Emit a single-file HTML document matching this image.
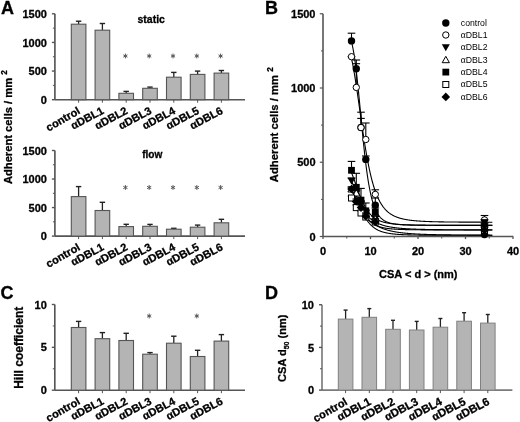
<!DOCTYPE html>
<html><head><meta charset="utf-8"><style>html,body{margin:0;padding:0;background:#fff;}svg{display:block;filter:grayscale(1) blur(0.35px);}text[font-weight="bold"]{stroke:#000;stroke-width:0.3px;}</style></head>
<body><svg width="520" height="422" viewBox="0 0 520 422"><text x="1.0" y="13.7" font-family="Liberation Sans, sans-serif" font-size="18" font-weight="bold" text-anchor="start" fill="#000" >A</text>
<text x="265.0" y="13.7" font-family="Liberation Sans, sans-serif" font-size="18" font-weight="bold" text-anchor="start" fill="#000" >B</text>
<text x="0.4" y="298.5" font-family="Liberation Sans, sans-serif" font-size="18" font-weight="bold" text-anchor="start" fill="#000" >C</text>
<text x="265.0" y="298.5" font-family="Liberation Sans, sans-serif" font-size="18" font-weight="bold" text-anchor="start" fill="#000" >D</text>
<line x1="54.9" y1="13.8" x2="54.9" y2="99.7" stroke="#555555" stroke-width="1.65" />
<line x1="54.9" y1="99.7" x2="245" y2="99.7" stroke="#555555" stroke-width="1.65" />
<line x1="51.9" y1="99.7" x2="54.9" y2="99.7" stroke="#555555" stroke-width="1.4" />
<text x="46.9" y="103.8" font-family="Liberation Sans, sans-serif" font-size="11" font-weight="bold" text-anchor="end" fill="#000" >0</text>
<line x1="51.9" y1="71.06666666666666" x2="54.9" y2="71.06666666666666" stroke="#555555" stroke-width="1.4" />
<text x="46.9" y="75.16666666666666" font-family="Liberation Sans, sans-serif" font-size="11" font-weight="bold" text-anchor="end" fill="#000" >500</text>
<line x1="51.9" y1="42.43333333333334" x2="54.9" y2="42.43333333333334" stroke="#555555" stroke-width="1.4" />
<text x="46.9" y="46.53333333333334" font-family="Liberation Sans, sans-serif" font-size="11" font-weight="bold" text-anchor="end" fill="#000" >1000</text>
<line x1="51.9" y1="13.799999999999997" x2="54.9" y2="13.799999999999997" stroke="#555555" stroke-width="1.4" />
<text x="46.9" y="17.9" font-family="Liberation Sans, sans-serif" font-size="11" font-weight="bold" text-anchor="end" fill="#000" >1500</text>
<line x1="52.9" y1="85.38333333333334" x2="54.9" y2="85.38333333333334" stroke="#555555" stroke-width="1.0" />
<line x1="52.9" y1="56.75" x2="54.9" y2="56.75" stroke="#555555" stroke-width="1.0" />
<line x1="52.9" y1="28.116666666666674" x2="54.9" y2="28.116666666666674" stroke="#555555" stroke-width="1.0" />
<line x1="78.6" y1="24.2" x2="78.6" y2="21.2" stroke="#222" stroke-width="1.3" />
<line x1="75.89999999999999" y1="21.2" x2="81.3" y2="21.2" stroke="#222" stroke-width="1.4" />
<rect x="71.3" y="24.2" width="14.6" height="75.5" fill="#b4b4b4" stroke="#555555" stroke-width="1.1"/>
<line x1="78.6" y1="99.7" x2="78.6" y2="102.7" stroke="#555555" stroke-width="1.0" />
<text transform="translate(80.89999999999999,113.0) rotate(-30)" font-family="Liberation Sans, sans-serif" font-size="11" font-weight="bold" text-anchor="end" fill="#000">control</text>
<line x1="102.39999999999999" y1="30.2" x2="102.39999999999999" y2="23.5" stroke="#222" stroke-width="1.3" />
<line x1="99.69999999999999" y1="23.5" x2="105.1" y2="23.5" stroke="#222" stroke-width="1.4" />
<rect x="95.1" y="30.2" width="14.6" height="69.5" fill="#b4b4b4" stroke="#555555" stroke-width="1.1"/>
<line x1="102.39999999999999" y1="99.7" x2="102.39999999999999" y2="102.7" stroke="#555555" stroke-width="1.0" />
<text transform="translate(104.69999999999999,113.0) rotate(-28)" font-family="Liberation Sans, sans-serif" font-size="11" font-weight="bold" text-anchor="end" fill="#000"><tspan font-family="Liberation Sans, sans-serif" font-weight="bold" font-size="11">α</tspan>DBL1</text>
<line x1="126.19999999999999" y1="93.3" x2="126.19999999999999" y2="91.4" stroke="#222" stroke-width="1.3" />
<line x1="123.49999999999999" y1="91.4" x2="128.89999999999998" y2="91.4" stroke="#222" stroke-width="1.4" />
<rect x="118.89999999999999" y="93.3" width="14.6" height="6.400000000000006" fill="#b4b4b4" stroke="#555555" stroke-width="1.1"/>
<line x1="126.19999999999999" y1="99.7" x2="126.19999999999999" y2="102.7" stroke="#555555" stroke-width="1.0" />
<line x1="125.4" y1="53.6" x2="125.4" y2="58.4" stroke="#555" stroke-width="1.0" />
<line x1="123.32" y1="54.8" x2="127.48" y2="57.2" stroke="#555" stroke-width="1.0" />
<line x1="123.32" y1="57.2" x2="127.48" y2="54.8" stroke="#555" stroke-width="1.0" />
<text transform="translate(128.5,113.0) rotate(-28)" font-family="Liberation Sans, sans-serif" font-size="11" font-weight="bold" text-anchor="end" fill="#000"><tspan font-family="Liberation Sans, sans-serif" font-weight="bold" font-size="11">α</tspan>DBL2</text>
<line x1="150.0" y1="88.3" x2="150.0" y2="87.1" stroke="#222" stroke-width="1.3" />
<line x1="147.3" y1="87.1" x2="152.7" y2="87.1" stroke="#222" stroke-width="1.4" />
<rect x="142.7" y="88.3" width="14.6" height="11.400000000000006" fill="#b4b4b4" stroke="#555555" stroke-width="1.1"/>
<line x1="150.0" y1="99.7" x2="150.0" y2="102.7" stroke="#555555" stroke-width="1.0" />
<line x1="149.2" y1="53.6" x2="149.2" y2="58.4" stroke="#555" stroke-width="1.0" />
<line x1="147.12" y1="54.8" x2="151.28" y2="57.2" stroke="#555" stroke-width="1.0" />
<line x1="147.12" y1="57.2" x2="151.28" y2="54.8" stroke="#555" stroke-width="1.0" />
<text transform="translate(152.3,113.0) rotate(-28)" font-family="Liberation Sans, sans-serif" font-size="11" font-weight="bold" text-anchor="end" fill="#000"><tspan font-family="Liberation Sans, sans-serif" font-weight="bold" font-size="11">α</tspan>DBL3</text>
<line x1="173.8" y1="77.2" x2="173.8" y2="72.4" stroke="#222" stroke-width="1.3" />
<line x1="171.10000000000002" y1="72.4" x2="176.5" y2="72.4" stroke="#222" stroke-width="1.4" />
<rect x="166.5" y="77.2" width="14.6" height="22.5" fill="#b4b4b4" stroke="#555555" stroke-width="1.1"/>
<line x1="173.8" y1="99.7" x2="173.8" y2="102.7" stroke="#555555" stroke-width="1.0" />
<line x1="173.0" y1="53.6" x2="173.0" y2="58.4" stroke="#555" stroke-width="1.0" />
<line x1="170.92" y1="54.8" x2="175.08" y2="57.2" stroke="#555" stroke-width="1.0" />
<line x1="170.92" y1="57.2" x2="175.08" y2="54.8" stroke="#555" stroke-width="1.0" />
<text transform="translate(176.10000000000002,113.0) rotate(-28)" font-family="Liberation Sans, sans-serif" font-size="11" font-weight="bold" text-anchor="end" fill="#000"><tspan font-family="Liberation Sans, sans-serif" font-weight="bold" font-size="11">α</tspan>DBL4</text>
<line x1="197.6" y1="74.4" x2="197.6" y2="71.1" stroke="#222" stroke-width="1.3" />
<line x1="194.9" y1="71.1" x2="200.29999999999998" y2="71.1" stroke="#222" stroke-width="1.4" />
<rect x="190.29999999999998" y="74.4" width="14.6" height="25.299999999999997" fill="#b4b4b4" stroke="#555555" stroke-width="1.1"/>
<line x1="197.6" y1="99.7" x2="197.6" y2="102.7" stroke="#555555" stroke-width="1.0" />
<line x1="196.8" y1="53.6" x2="196.8" y2="58.4" stroke="#555" stroke-width="1.0" />
<line x1="194.72" y1="54.8" x2="198.88" y2="57.2" stroke="#555" stroke-width="1.0" />
<line x1="194.72" y1="57.2" x2="198.88" y2="54.8" stroke="#555" stroke-width="1.0" />
<text transform="translate(199.9,113.0) rotate(-28)" font-family="Liberation Sans, sans-serif" font-size="11" font-weight="bold" text-anchor="end" fill="#000"><tspan font-family="Liberation Sans, sans-serif" font-weight="bold" font-size="11">α</tspan>DBL5</text>
<line x1="221.4" y1="73.1" x2="221.4" y2="70.5" stroke="#222" stroke-width="1.3" />
<line x1="218.70000000000002" y1="70.5" x2="224.1" y2="70.5" stroke="#222" stroke-width="1.4" />
<rect x="214.1" y="73.1" width="14.6" height="26.60000000000001" fill="#b4b4b4" stroke="#555555" stroke-width="1.1"/>
<line x1="221.4" y1="99.7" x2="221.4" y2="102.7" stroke="#555555" stroke-width="1.0" />
<line x1="220.6" y1="53.6" x2="220.6" y2="58.4" stroke="#555" stroke-width="1.0" />
<line x1="218.52" y1="54.8" x2="222.68" y2="57.2" stroke="#555" stroke-width="1.0" />
<line x1="218.52" y1="57.2" x2="222.68" y2="54.8" stroke="#555" stroke-width="1.0" />
<text transform="translate(223.70000000000002,113.0) rotate(-28)" font-family="Liberation Sans, sans-serif" font-size="11" font-weight="bold" text-anchor="end" fill="#000"><tspan font-family="Liberation Sans, sans-serif" font-weight="bold" font-size="11">α</tspan>DBL6</text>
<text x="151.2" y="23.2" font-family="Liberation Sans, sans-serif" font-size="10.5" font-weight="bold" text-anchor="middle" fill="#000" >static</text>
<line x1="54.9" y1="150.5" x2="54.9" y2="236.1" stroke="#555555" stroke-width="1.65" />
<line x1="54.9" y1="236.1" x2="245" y2="236.1" stroke="#555555" stroke-width="1.65" />
<line x1="51.9" y1="236.1" x2="54.9" y2="236.1" stroke="#555555" stroke-width="1.4" />
<text x="46.9" y="240.2" font-family="Liberation Sans, sans-serif" font-size="11" font-weight="bold" text-anchor="end" fill="#000" >0</text>
<line x1="51.9" y1="207.56666666666666" x2="54.9" y2="207.56666666666666" stroke="#555555" stroke-width="1.4" />
<text x="46.9" y="211.66666666666666" font-family="Liberation Sans, sans-serif" font-size="11" font-weight="bold" text-anchor="end" fill="#000" >500</text>
<line x1="51.9" y1="179.03333333333333" x2="54.9" y2="179.03333333333333" stroke="#555555" stroke-width="1.4" />
<text x="46.9" y="183.13333333333333" font-family="Liberation Sans, sans-serif" font-size="11" font-weight="bold" text-anchor="end" fill="#000" >1000</text>
<line x1="51.9" y1="150.5" x2="54.9" y2="150.5" stroke="#555555" stroke-width="1.4" />
<text x="46.9" y="154.6" font-family="Liberation Sans, sans-serif" font-size="11" font-weight="bold" text-anchor="end" fill="#000" >1500</text>
<line x1="52.9" y1="221.83333333333331" x2="54.9" y2="221.83333333333331" stroke="#555555" stroke-width="1.0" />
<line x1="52.9" y1="193.3" x2="54.9" y2="193.3" stroke="#555555" stroke-width="1.0" />
<line x1="52.9" y1="164.76666666666665" x2="54.9" y2="164.76666666666665" stroke="#555555" stroke-width="1.0" />
<line x1="78.6" y1="196.6" x2="78.6" y2="186.6" stroke="#222" stroke-width="1.3" />
<line x1="75.89999999999999" y1="186.6" x2="81.3" y2="186.6" stroke="#222" stroke-width="1.4" />
<rect x="71.3" y="196.6" width="14.6" height="39.5" fill="#b4b4b4" stroke="#555555" stroke-width="1.1"/>
<line x1="78.6" y1="236.1" x2="78.6" y2="239.1" stroke="#555555" stroke-width="1.0" />
<text transform="translate(80.89999999999999,249.4) rotate(-30)" font-family="Liberation Sans, sans-serif" font-size="11" font-weight="bold" text-anchor="end" fill="#000">control</text>
<line x1="102.39999999999999" y1="210.5" x2="102.39999999999999" y2="202.3" stroke="#222" stroke-width="1.3" />
<line x1="99.69999999999999" y1="202.3" x2="105.1" y2="202.3" stroke="#222" stroke-width="1.4" />
<rect x="95.1" y="210.5" width="14.6" height="25.599999999999994" fill="#b4b4b4" stroke="#555555" stroke-width="1.1"/>
<line x1="102.39999999999999" y1="236.1" x2="102.39999999999999" y2="239.1" stroke="#555555" stroke-width="1.0" />
<text transform="translate(104.69999999999999,249.4) rotate(-28)" font-family="Liberation Sans, sans-serif" font-size="11" font-weight="bold" text-anchor="end" fill="#000"><tspan font-family="Liberation Sans, sans-serif" font-weight="bold" font-size="11">α</tspan>DBL1</text>
<line x1="126.19999999999999" y1="226.6" x2="126.19999999999999" y2="224.3" stroke="#222" stroke-width="1.3" />
<line x1="123.49999999999999" y1="224.3" x2="128.89999999999998" y2="224.3" stroke="#222" stroke-width="1.4" />
<rect x="118.89999999999999" y="226.6" width="14.6" height="9.5" fill="#b4b4b4" stroke="#555555" stroke-width="1.1"/>
<line x1="126.19999999999999" y1="236.1" x2="126.19999999999999" y2="239.1" stroke="#555555" stroke-width="1.0" />
<line x1="125.4" y1="185.1" x2="125.4" y2="189.9" stroke="#555" stroke-width="1.0" />
<line x1="123.32" y1="186.3" x2="127.48" y2="188.7" stroke="#555" stroke-width="1.0" />
<line x1="123.32" y1="188.7" x2="127.48" y2="186.3" stroke="#555" stroke-width="1.0" />
<text transform="translate(128.5,249.4) rotate(-28)" font-family="Liberation Sans, sans-serif" font-size="11" font-weight="bold" text-anchor="end" fill="#000"><tspan font-family="Liberation Sans, sans-serif" font-weight="bold" font-size="11">α</tspan>DBL2</text>
<line x1="150.0" y1="226.3" x2="150.0" y2="224.4" stroke="#222" stroke-width="1.3" />
<line x1="147.3" y1="224.4" x2="152.7" y2="224.4" stroke="#222" stroke-width="1.4" />
<rect x="142.7" y="226.3" width="14.6" height="9.799999999999983" fill="#b4b4b4" stroke="#555555" stroke-width="1.1"/>
<line x1="150.0" y1="236.1" x2="150.0" y2="239.1" stroke="#555555" stroke-width="1.0" />
<line x1="149.2" y1="185.1" x2="149.2" y2="189.9" stroke="#555" stroke-width="1.0" />
<line x1="147.12" y1="186.3" x2="151.28" y2="188.7" stroke="#555" stroke-width="1.0" />
<line x1="147.12" y1="188.7" x2="151.28" y2="186.3" stroke="#555" stroke-width="1.0" />
<text transform="translate(152.3,249.4) rotate(-28)" font-family="Liberation Sans, sans-serif" font-size="11" font-weight="bold" text-anchor="end" fill="#000"><tspan font-family="Liberation Sans, sans-serif" font-weight="bold" font-size="11">α</tspan>DBL3</text>
<line x1="173.8" y1="229.2" x2="173.8" y2="228.3" stroke="#222" stroke-width="1.3" />
<line x1="171.10000000000002" y1="228.3" x2="176.5" y2="228.3" stroke="#222" stroke-width="1.4" />
<rect x="166.5" y="229.2" width="14.6" height="6.900000000000006" fill="#b4b4b4" stroke="#555555" stroke-width="1.1"/>
<line x1="173.8" y1="236.1" x2="173.8" y2="239.1" stroke="#555555" stroke-width="1.0" />
<line x1="173.0" y1="185.1" x2="173.0" y2="189.9" stroke="#555" stroke-width="1.0" />
<line x1="170.92" y1="186.3" x2="175.08" y2="188.7" stroke="#555" stroke-width="1.0" />
<line x1="170.92" y1="188.7" x2="175.08" y2="186.3" stroke="#555" stroke-width="1.0" />
<text transform="translate(176.10000000000002,249.4) rotate(-28)" font-family="Liberation Sans, sans-serif" font-size="11" font-weight="bold" text-anchor="end" fill="#000"><tspan font-family="Liberation Sans, sans-serif" font-weight="bold" font-size="11">α</tspan>DBL4</text>
<line x1="197.6" y1="227.2" x2="197.6" y2="225.1" stroke="#222" stroke-width="1.3" />
<line x1="194.9" y1="225.1" x2="200.29999999999998" y2="225.1" stroke="#222" stroke-width="1.4" />
<rect x="190.29999999999998" y="227.2" width="14.6" height="8.900000000000006" fill="#b4b4b4" stroke="#555555" stroke-width="1.1"/>
<line x1="197.6" y1="236.1" x2="197.6" y2="239.1" stroke="#555555" stroke-width="1.0" />
<line x1="196.8" y1="185.1" x2="196.8" y2="189.9" stroke="#555" stroke-width="1.0" />
<line x1="194.72" y1="186.3" x2="198.88" y2="188.7" stroke="#555" stroke-width="1.0" />
<line x1="194.72" y1="188.7" x2="198.88" y2="186.3" stroke="#555" stroke-width="1.0" />
<text transform="translate(199.9,249.4) rotate(-28)" font-family="Liberation Sans, sans-serif" font-size="11" font-weight="bold" text-anchor="end" fill="#000"><tspan font-family="Liberation Sans, sans-serif" font-weight="bold" font-size="11">α</tspan>DBL5</text>
<line x1="221.4" y1="222.8" x2="221.4" y2="219.3" stroke="#222" stroke-width="1.3" />
<line x1="218.70000000000002" y1="219.3" x2="224.1" y2="219.3" stroke="#222" stroke-width="1.4" />
<rect x="214.1" y="222.8" width="14.6" height="13.299999999999983" fill="#b4b4b4" stroke="#555555" stroke-width="1.1"/>
<line x1="221.4" y1="236.1" x2="221.4" y2="239.1" stroke="#555555" stroke-width="1.0" />
<line x1="220.6" y1="185.1" x2="220.6" y2="189.9" stroke="#555" stroke-width="1.0" />
<line x1="218.52" y1="186.3" x2="222.68" y2="188.7" stroke="#555" stroke-width="1.0" />
<line x1="218.52" y1="188.7" x2="222.68" y2="186.3" stroke="#555" stroke-width="1.0" />
<text transform="translate(223.70000000000002,249.4) rotate(-28)" font-family="Liberation Sans, sans-serif" font-size="11" font-weight="bold" text-anchor="end" fill="#000"><tspan font-family="Liberation Sans, sans-serif" font-weight="bold" font-size="11">α</tspan>DBL6</text>
<text x="152.3" y="157.7" font-family="Liberation Sans, sans-serif" font-size="10.1" font-weight="bold" text-anchor="middle" fill="#000" >flow</text>
<text transform="translate(11.8,184.1) rotate(-90)" font-family="Liberation Sans, sans-serif" font-size="11.2" font-weight="bold" fill="#000">Adherent cells / mm <tspan font-size="8.2" dy="-4.8">2</tspan></text>
<line x1="54.8" y1="304.5" x2="54.8" y2="390.2" stroke="#555555" stroke-width="1.65" />
<line x1="54.8" y1="390.2" x2="245" y2="390.2" stroke="#555555" stroke-width="1.65" />
<line x1="51.8" y1="390.2" x2="54.8" y2="390.2" stroke="#555555" stroke-width="1.4" />
<text x="46.8" y="394.3" font-family="Liberation Sans, sans-serif" font-size="11" font-weight="bold" text-anchor="end" fill="#000" >0</text>
<line x1="51.8" y1="347.35" x2="54.8" y2="347.35" stroke="#555555" stroke-width="1.4" />
<text x="46.8" y="351.45000000000005" font-family="Liberation Sans, sans-serif" font-size="11" font-weight="bold" text-anchor="end" fill="#000" >5</text>
<line x1="51.8" y1="304.5" x2="54.8" y2="304.5" stroke="#555555" stroke-width="1.4" />
<text x="46.8" y="308.6" font-family="Liberation Sans, sans-serif" font-size="11" font-weight="bold" text-anchor="end" fill="#000" >10</text>
<line x1="52.8" y1="368.775" x2="54.8" y2="368.775" stroke="#555555" stroke-width="1.0" />
<line x1="52.8" y1="325.925" x2="54.8" y2="325.925" stroke="#555555" stroke-width="1.0" />
<line x1="78.6" y1="327.5" x2="78.6" y2="321.4" stroke="#222" stroke-width="1.3" />
<line x1="75.89999999999999" y1="321.4" x2="81.3" y2="321.4" stroke="#222" stroke-width="1.4" />
<rect x="71.3" y="327.5" width="14.6" height="62.69999999999999" fill="#b4b4b4" stroke="#555555" stroke-width="1.1"/>
<line x1="78.6" y1="390.2" x2="78.6" y2="393.2" stroke="#555555" stroke-width="1.0" />
<text transform="translate(80.89999999999999,403.5) rotate(-30)" font-family="Liberation Sans, sans-serif" font-size="11" font-weight="bold" text-anchor="end" fill="#000">control</text>
<line x1="102.39999999999999" y1="338.7" x2="102.39999999999999" y2="332.6" stroke="#222" stroke-width="1.3" />
<line x1="99.69999999999999" y1="332.6" x2="105.1" y2="332.6" stroke="#222" stroke-width="1.4" />
<rect x="95.1" y="338.7" width="14.6" height="51.5" fill="#b4b4b4" stroke="#555555" stroke-width="1.1"/>
<line x1="102.39999999999999" y1="390.2" x2="102.39999999999999" y2="393.2" stroke="#555555" stroke-width="1.0" />
<text transform="translate(104.69999999999999,403.5) rotate(-28)" font-family="Liberation Sans, sans-serif" font-size="11" font-weight="bold" text-anchor="end" fill="#000"><tspan font-family="Liberation Sans, sans-serif" font-weight="bold" font-size="11">α</tspan>DBL1</text>
<line x1="126.19999999999999" y1="340.5" x2="126.19999999999999" y2="333.3" stroke="#222" stroke-width="1.3" />
<line x1="123.49999999999999" y1="333.3" x2="128.89999999999998" y2="333.3" stroke="#222" stroke-width="1.4" />
<rect x="118.89999999999999" y="340.5" width="14.6" height="49.69999999999999" fill="#b4b4b4" stroke="#555555" stroke-width="1.1"/>
<line x1="126.19999999999999" y1="390.2" x2="126.19999999999999" y2="393.2" stroke="#555555" stroke-width="1.0" />
<text transform="translate(128.5,403.5) rotate(-28)" font-family="Liberation Sans, sans-serif" font-size="11" font-weight="bold" text-anchor="end" fill="#000"><tspan font-family="Liberation Sans, sans-serif" font-weight="bold" font-size="11">α</tspan>DBL2</text>
<line x1="150.0" y1="354.2" x2="150.0" y2="352.6" stroke="#222" stroke-width="1.3" />
<line x1="147.3" y1="352.6" x2="152.7" y2="352.6" stroke="#222" stroke-width="1.4" />
<rect x="142.7" y="354.2" width="14.6" height="36.0" fill="#b4b4b4" stroke="#555555" stroke-width="1.1"/>
<line x1="150.0" y1="390.2" x2="150.0" y2="393.2" stroke="#555555" stroke-width="1.0" />
<line x1="149.2" y1="313.6" x2="149.2" y2="318.4" stroke="#555" stroke-width="1.0" />
<line x1="147.12" y1="314.8" x2="151.28" y2="317.2" stroke="#555" stroke-width="1.0" />
<line x1="147.12" y1="317.2" x2="151.28" y2="314.8" stroke="#555" stroke-width="1.0" />
<text transform="translate(152.3,403.5) rotate(-28)" font-family="Liberation Sans, sans-serif" font-size="11" font-weight="bold" text-anchor="end" fill="#000"><tspan font-family="Liberation Sans, sans-serif" font-weight="bold" font-size="11">α</tspan>DBL3</text>
<line x1="173.8" y1="343.2" x2="173.8" y2="336.2" stroke="#222" stroke-width="1.3" />
<line x1="171.10000000000002" y1="336.2" x2="176.5" y2="336.2" stroke="#222" stroke-width="1.4" />
<rect x="166.5" y="343.2" width="14.6" height="47.0" fill="#b4b4b4" stroke="#555555" stroke-width="1.1"/>
<line x1="173.8" y1="390.2" x2="173.8" y2="393.2" stroke="#555555" stroke-width="1.0" />
<text transform="translate(176.10000000000002,403.5) rotate(-28)" font-family="Liberation Sans, sans-serif" font-size="11" font-weight="bold" text-anchor="end" fill="#000"><tspan font-family="Liberation Sans, sans-serif" font-weight="bold" font-size="11">α</tspan>DBL4</text>
<line x1="197.6" y1="356.5" x2="197.6" y2="350.3" stroke="#222" stroke-width="1.3" />
<line x1="194.9" y1="350.3" x2="200.29999999999998" y2="350.3" stroke="#222" stroke-width="1.4" />
<rect x="190.29999999999998" y="356.5" width="14.6" height="33.69999999999999" fill="#b4b4b4" stroke="#555555" stroke-width="1.1"/>
<line x1="197.6" y1="390.2" x2="197.6" y2="393.2" stroke="#555555" stroke-width="1.0" />
<line x1="196.8" y1="313.6" x2="196.8" y2="318.4" stroke="#555" stroke-width="1.0" />
<line x1="194.72" y1="314.8" x2="198.88" y2="317.2" stroke="#555" stroke-width="1.0" />
<line x1="194.72" y1="317.2" x2="198.88" y2="314.8" stroke="#555" stroke-width="1.0" />
<text transform="translate(199.9,403.5) rotate(-28)" font-family="Liberation Sans, sans-serif" font-size="11" font-weight="bold" text-anchor="end" fill="#000"><tspan font-family="Liberation Sans, sans-serif" font-weight="bold" font-size="11">α</tspan>DBL5</text>
<line x1="221.4" y1="341.1" x2="221.4" y2="334.6" stroke="#222" stroke-width="1.3" />
<line x1="218.70000000000002" y1="334.6" x2="224.1" y2="334.6" stroke="#222" stroke-width="1.4" />
<rect x="214.1" y="341.1" width="14.6" height="49.099999999999966" fill="#b4b4b4" stroke="#555555" stroke-width="1.1"/>
<line x1="221.4" y1="390.2" x2="221.4" y2="393.2" stroke="#555555" stroke-width="1.0" />
<text transform="translate(223.70000000000002,403.5) rotate(-28)" font-family="Liberation Sans, sans-serif" font-size="11" font-weight="bold" text-anchor="end" fill="#000"><tspan font-family="Liberation Sans, sans-serif" font-weight="bold" font-size="11">α</tspan>DBL6</text>
<text transform="translate(23.1,388.8) rotate(-90)" font-family="Liberation Sans, sans-serif" font-size="12" font-weight="bold" fill="#000">Hill coefficient</text>
<line x1="322" y1="304.75" x2="322" y2="390.1" stroke="#7a7a7a" stroke-width="1.65" />
<line x1="322" y1="390.1" x2="512.4" y2="390.1" stroke="#7a7a7a" stroke-width="1.65" />
<line x1="319.0" y1="390.1" x2="322" y2="390.1" stroke="#555555" stroke-width="1.4" />
<text x="314.0" y="394.20000000000005" font-family="Liberation Sans, sans-serif" font-size="11" font-weight="bold" text-anchor="end" fill="#000" >0</text>
<line x1="319.0" y1="347.425" x2="322" y2="347.425" stroke="#555555" stroke-width="1.4" />
<text x="314.0" y="351.52500000000003" font-family="Liberation Sans, sans-serif" font-size="11" font-weight="bold" text-anchor="end" fill="#000" >5</text>
<line x1="319.0" y1="304.75" x2="322" y2="304.75" stroke="#555555" stroke-width="1.4" />
<text x="314.0" y="308.85" font-family="Liberation Sans, sans-serif" font-size="11" font-weight="bold" text-anchor="end" fill="#000" >10</text>
<line x1="320" y1="368.76250000000005" x2="322" y2="368.76250000000005" stroke="#555555" stroke-width="1.0" />
<line x1="320" y1="326.0875" x2="322" y2="326.0875" stroke="#555555" stroke-width="1.0" />
<line x1="345.6" y1="319.1" x2="345.6" y2="310.1" stroke="#222" stroke-width="1.3" />
<line x1="343.6" y1="310.1" x2="347.6" y2="310.1" stroke="#222" stroke-width="1.4" />
<rect x="338.3" y="319.1" width="14.6" height="71.0" fill="#b4b4b4" stroke="#808080" stroke-width="1.0"/>
<line x1="345.6" y1="390.1" x2="345.6" y2="393.1" stroke="#555555" stroke-width="1.0" />
<text transform="translate(348.1,403.90000000000003) rotate(-30)" font-family="Liberation Sans, sans-serif" font-size="11" font-weight="bold" text-anchor="end" fill="#000">control</text>
<line x1="369.3" y1="317.3" x2="369.3" y2="308.6" stroke="#222" stroke-width="1.3" />
<line x1="367.3" y1="308.6" x2="371.3" y2="308.6" stroke="#222" stroke-width="1.4" />
<rect x="362.0" y="317.3" width="14.6" height="72.80000000000001" fill="#b4b4b4" stroke="#808080" stroke-width="1.0"/>
<line x1="369.3" y1="390.1" x2="369.3" y2="393.1" stroke="#555555" stroke-width="1.0" />
<text transform="translate(371.8,403.90000000000003) rotate(-28)" font-family="Liberation Sans, sans-serif" font-size="11.4" font-weight="bold" text-anchor="end" fill="#000"><tspan font-family="Liberation Sans, sans-serif" font-weight="bold" font-size="11">α</tspan>DBL1</text>
<line x1="393.0" y1="329.3" x2="393.0" y2="320.3" stroke="#222" stroke-width="1.3" />
<line x1="391.0" y1="320.3" x2="395.0" y2="320.3" stroke="#222" stroke-width="1.4" />
<rect x="385.7" y="329.3" width="14.6" height="60.80000000000001" fill="#b4b4b4" stroke="#808080" stroke-width="1.0"/>
<line x1="393.0" y1="390.1" x2="393.0" y2="393.1" stroke="#555555" stroke-width="1.0" />
<text transform="translate(395.5,403.90000000000003) rotate(-28)" font-family="Liberation Sans, sans-serif" font-size="11.4" font-weight="bold" text-anchor="end" fill="#000"><tspan font-family="Liberation Sans, sans-serif" font-weight="bold" font-size="11">α</tspan>DBL2</text>
<line x1="416.70000000000005" y1="330" x2="416.70000000000005" y2="321.4" stroke="#222" stroke-width="1.3" />
<line x1="414.70000000000005" y1="321.4" x2="418.70000000000005" y2="321.4" stroke="#222" stroke-width="1.4" />
<rect x="409.40000000000003" y="330" width="14.6" height="60.10000000000002" fill="#b4b4b4" stroke="#808080" stroke-width="1.0"/>
<line x1="416.70000000000005" y1="390.1" x2="416.70000000000005" y2="393.1" stroke="#555555" stroke-width="1.0" />
<text transform="translate(419.20000000000005,403.90000000000003) rotate(-28)" font-family="Liberation Sans, sans-serif" font-size="11.4" font-weight="bold" text-anchor="end" fill="#000"><tspan font-family="Liberation Sans, sans-serif" font-weight="bold" font-size="11">α</tspan>DBL3</text>
<line x1="440.40000000000003" y1="327.2" x2="440.40000000000003" y2="318.5" stroke="#222" stroke-width="1.3" />
<line x1="438.40000000000003" y1="318.5" x2="442.40000000000003" y2="318.5" stroke="#222" stroke-width="1.4" />
<rect x="433.1" y="327.2" width="14.6" height="62.900000000000034" fill="#b4b4b4" stroke="#808080" stroke-width="1.0"/>
<line x1="440.40000000000003" y1="390.1" x2="440.40000000000003" y2="393.1" stroke="#555555" stroke-width="1.0" />
<text transform="translate(442.90000000000003,403.90000000000003) rotate(-28)" font-family="Liberation Sans, sans-serif" font-size="11.4" font-weight="bold" text-anchor="end" fill="#000"><tspan font-family="Liberation Sans, sans-serif" font-weight="bold" font-size="11">α</tspan>DBL4</text>
<line x1="464.1" y1="321.2" x2="464.1" y2="312.7" stroke="#222" stroke-width="1.3" />
<line x1="462.1" y1="312.7" x2="466.1" y2="312.7" stroke="#222" stroke-width="1.4" />
<rect x="456.8" y="321.2" width="14.6" height="68.90000000000003" fill="#b4b4b4" stroke="#808080" stroke-width="1.0"/>
<line x1="464.1" y1="390.1" x2="464.1" y2="393.1" stroke="#555555" stroke-width="1.0" />
<text transform="translate(466.6,403.90000000000003) rotate(-28)" font-family="Liberation Sans, sans-serif" font-size="11.4" font-weight="bold" text-anchor="end" fill="#000"><tspan font-family="Liberation Sans, sans-serif" font-weight="bold" font-size="11">α</tspan>DBL5</text>
<line x1="487.8" y1="323.1" x2="487.8" y2="314.5" stroke="#222" stroke-width="1.3" />
<line x1="485.8" y1="314.5" x2="489.8" y2="314.5" stroke="#222" stroke-width="1.4" />
<rect x="480.5" y="323.1" width="14.6" height="67.0" fill="#b4b4b4" stroke="#808080" stroke-width="1.0"/>
<line x1="487.8" y1="390.1" x2="487.8" y2="393.1" stroke="#555555" stroke-width="1.0" />
<text transform="translate(490.3,403.90000000000003) rotate(-28)" font-family="Liberation Sans, sans-serif" font-size="11.4" font-weight="bold" text-anchor="end" fill="#000"><tspan font-family="Liberation Sans, sans-serif" font-weight="bold" font-size="11">α</tspan>DBL6</text>
<text transform="translate(286.3,381.9) rotate(-90)" font-family="Liberation Sans, sans-serif" font-size="11" font-weight="bold" fill="#000">CSA d<tspan font-size="7" dy="3">50</tspan><tspan dy="-3"> (nm)</tspan></text>
<line x1="323" y1="13.75" x2="323" y2="236.5" stroke="#555555" stroke-width="1.6" />
<line x1="323" y1="236.5" x2="513.3" y2="236.5" stroke="#555555" stroke-width="1.6" />
<line x1="319.8" y1="236.5" x2="323" y2="236.5" stroke="#555555" stroke-width="1.2" />
<text x="315.5" y="240.5" font-family="Liberation Sans, sans-serif" font-size="11" font-weight="bold" text-anchor="end" fill="#000" >0</text>
<line x1="319.8" y1="162.25" x2="323" y2="162.25" stroke="#555555" stroke-width="1.2" />
<text x="315.5" y="166.25" font-family="Liberation Sans, sans-serif" font-size="11" font-weight="bold" text-anchor="end" fill="#000" >500</text>
<line x1="319.8" y1="88.0" x2="323" y2="88.0" stroke="#555555" stroke-width="1.2" />
<text x="315.5" y="92.0" font-family="Liberation Sans, sans-serif" font-size="11" font-weight="bold" text-anchor="end" fill="#000" >1000</text>
<line x1="319.8" y1="13.75" x2="323" y2="13.75" stroke="#555555" stroke-width="1.2" />
<text x="315.5" y="17.75" font-family="Liberation Sans, sans-serif" font-size="11" font-weight="bold" text-anchor="end" fill="#000" >1500</text>
<line x1="321" y1="199.375" x2="323" y2="199.375" stroke="#555555" stroke-width="1.0" />
<line x1="321" y1="125.125" x2="323" y2="125.125" stroke="#555555" stroke-width="1.0" />
<line x1="321" y1="50.875" x2="323" y2="50.875" stroke="#555555" stroke-width="1.0" />
<line x1="323.0" y1="236.5" x2="323.0" y2="239.1" stroke="#555555" stroke-width="1.3" />
<text x="323.0" y="255.0" font-family="Liberation Sans, sans-serif" font-size="11" font-weight="bold" text-anchor="middle" fill="#000" >0</text>
<line x1="370.5" y1="236.5" x2="370.5" y2="239.1" stroke="#555555" stroke-width="1.3" />
<text x="370.5" y="255.0" font-family="Liberation Sans, sans-serif" font-size="11" font-weight="bold" text-anchor="middle" fill="#000" >10</text>
<line x1="418.0" y1="236.5" x2="418.0" y2="239.1" stroke="#555555" stroke-width="1.3" />
<text x="418.0" y="255.0" font-family="Liberation Sans, sans-serif" font-size="11" font-weight="bold" text-anchor="middle" fill="#000" >20</text>
<line x1="465.5" y1="236.5" x2="465.5" y2="239.1" stroke="#555555" stroke-width="1.3" />
<text x="465.5" y="255.0" font-family="Liberation Sans, sans-serif" font-size="11" font-weight="bold" text-anchor="middle" fill="#000" >30</text>
<line x1="513.0" y1="236.5" x2="513.0" y2="239.1" stroke="#555555" stroke-width="1.3" />
<text x="513.0" y="255.0" font-family="Liberation Sans, sans-serif" font-size="11" font-weight="bold" text-anchor="middle" fill="#000" >40</text>
<line x1="346.75" y1="236.5" x2="346.75" y2="238.5" stroke="#555555" stroke-width="1.0" />
<line x1="394.25" y1="236.5" x2="394.25" y2="238.5" stroke="#555555" stroke-width="1.0" />
<line x1="441.75" y1="236.5" x2="441.75" y2="238.5" stroke="#555555" stroke-width="1.0" />
<line x1="489.25" y1="236.5" x2="489.25" y2="238.5" stroke="#555555" stroke-width="1.0" />
<text x="418.3" y="277.7" font-family="Liberation Sans, sans-serif" font-size="11" font-weight="bold" text-anchor="middle" fill="#000" >CSA &lt; d &gt; (nm)</text>
<text transform="translate(278.2,182.2) rotate(-90)" font-family="Liberation Sans, sans-serif" font-size="11.3" font-weight="bold" fill="#000">Adherent cells / mm <tspan font-size="8.2" dy="-4.8">2</tspan></text>
<polyline points="351.02,39.96 351.26,40.83 351.50,41.74 351.74,42.70 351.98,43.71 352.21,44.76 352.45,45.87 352.69,47.02 352.93,48.23 353.16,49.49 353.40,50.80 353.64,52.16 353.88,53.58 354.11,55.06 354.35,56.59 354.59,58.18 354.82,59.82 355.06,61.52 355.30,63.27 355.54,65.07 355.77,66.93 356.01,68.85 356.25,70.81 356.49,72.82 356.72,74.88 356.96,76.99 357.20,79.15 357.44,81.34 357.67,83.58 357.91,85.86 358.15,88.17 358.39,90.51 358.62,92.89 358.86,95.29 359.10,97.72 359.34,100.17 359.57,102.63 359.81,105.11 360.05,107.61 360.29,110.11 360.52,112.61 360.76,115.12 361.00,117.63 361.24,120.13 361.47,122.62 361.71,125.10 361.95,127.57 362.19,130.02 362.42,132.45 362.66,134.86 362.90,137.25 363.14,139.60 363.38,141.93 363.61,144.23 363.85,146.49 364.09,148.72 364.33,150.92 364.56,153.07 364.80,155.19 365.04,157.26 365.28,159.30 365.51,161.29 365.75,163.24 365.99,165.15 366.23,167.01 366.46,168.83 366.70,170.60 366.94,172.33 367.18,174.02 367.41,175.66 367.65,177.26 367.89,178.81 368.13,180.32 368.36,181.79 368.60,183.22 368.84,184.60 369.08,185.95 369.31,187.25 369.55,188.52 369.79,189.74 370.03,190.93 370.26,192.08 370.50,193.19 370.74,194.27 370.98,195.31 371.21,196.32 371.45,197.30 371.69,198.24 371.93,199.16 372.16,200.04 372.40,200.89 372.64,201.72 372.88,202.51 373.11,203.28 373.35,204.03 373.59,204.74 373.83,205.44 374.06,206.11 374.30,206.75 374.54,207.38 374.78,207.98 375.01,208.56 375.25,209.12 375.49,209.66 375.73,210.18 375.96,210.69 376.20,211.18 376.44,211.65 376.68,212.10 376.91,212.54 377.15,212.96 377.39,213.37 377.63,213.76 377.86,214.14 378.10,214.50 378.34,214.86 378.58,215.20 378.81,215.53 379.05,215.85 379.29,216.15 379.53,216.45 379.76,216.73 380.00,217.01 380.24,217.28 380.48,217.53 380.71,217.78 380.95,218.02 381.19,218.25 381.43,218.48 381.66,218.69 381.90,218.90 382.14,219.10 382.38,219.30 382.61,219.48 382.85,219.67 383.09,219.84 383.33,220.01 383.56,220.18 383.80,220.33 384.04,220.49 384.28,220.63 384.51,220.78 384.75,220.92 384.99,221.05 385.23,221.18 385.46,221.30 385.70,221.42 385.94,221.54 386.18,221.65 386.41,221.76 386.65,221.87 386.89,221.97 387.13,222.07 387.36,222.17 387.60,222.26 387.84,222.35 388.08,222.44 388.31,222.52 388.55,222.60 388.79,222.68 389.03,222.76 389.26,222.83 389.50,222.90 389.74,222.97 389.98,223.04 390.21,223.11 390.45,223.17 390.69,223.23 390.93,223.29 391.16,223.35 391.40,223.40 391.64,223.46 391.88,223.51 392.11,223.56 392.35,223.61 392.59,223.66 392.83,223.70 393.06,223.75 393.30,223.79 393.54,223.83 393.78,223.87 394.01,223.91 394.25,223.95 394.49,223.99 394.73,224.03 394.96,224.06 395.20,224.09 395.44,224.13 395.68,224.16 395.91,224.19 396.15,224.22 396.39,224.25 396.63,224.28 396.86,224.31 397.10,224.33 397.34,224.36 397.58,224.39 397.81,224.41 398.05,224.44 398.29,224.46 398.53,224.48 398.76,224.50 399.00,224.53 399.24,224.55 399.48,224.57 399.71,224.59 399.95,224.61 400.19,224.62 400.43,224.64 400.66,224.66 400.90,224.68 401.14,224.69 401.38,224.71 401.61,224.73 401.85,224.74 402.09,224.76 402.33,224.77 402.56,224.78 402.80,224.80 403.04,224.81 403.28,224.83 403.51,224.84 403.75,224.85 403.99,224.86 404.23,224.87 404.46,224.89 404.70,224.90 404.94,224.91 405.18,224.92 405.41,224.93 405.65,224.94 405.89,224.95 406.13,224.96 406.36,224.97 406.60,224.98 406.84,224.98 407.08,224.99 407.31,225.00 407.55,225.01 407.79,225.02 408.03,225.03 408.26,225.03 408.50,225.04 408.74,225.05 408.98,225.05 409.21,225.06 409.45,225.07 409.69,225.07 409.93,225.08 410.16,225.09 410.40,225.09 410.64,225.10 410.88,225.10 411.11,225.11 411.35,225.12 411.59,225.12 411.83,225.13 412.06,225.13 412.30,225.14 412.54,225.14 412.78,225.15 413.01,225.15 413.25,225.15 413.49,225.16 413.73,225.16 413.96,225.17 414.20,225.17 414.44,225.18 414.68,225.18 414.91,225.18 415.15,225.19 415.39,225.19 415.63,225.19 415.86,225.20 416.10,225.20 416.34,225.20 416.58,225.21 416.81,225.21 417.05,225.21 417.29,225.22 417.53,225.22 417.76,225.22 418.00,225.23 418.24,225.23 418.48,225.23 418.71,225.23 418.95,225.24 419.19,225.24 419.43,225.24 419.66,225.24 419.90,225.25 420.14,225.25 420.38,225.25 420.61,225.25 420.85,225.25 421.09,225.26 421.33,225.26 421.56,225.26 421.80,225.26 422.04,225.26 422.28,225.27 422.51,225.27 422.75,225.27 422.99,225.27 423.23,225.27 423.46,225.28 423.70,225.28 423.94,225.28 424.18,225.28 424.41,225.28 424.65,225.28 424.89,225.28 425.13,225.29 425.36,225.29 425.60,225.29 425.84,225.29 426.08,225.29 426.31,225.29 426.55,225.29 426.79,225.30 427.03,225.30 427.26,225.30 427.50,225.30 427.74,225.30 427.98,225.30 428.21,225.30 428.45,225.30 428.69,225.30 428.93,225.31 429.16,225.31 429.40,225.31 429.64,225.31 429.88,225.31 430.11,225.31 430.35,225.31 430.59,225.31 430.83,225.31 431.06,225.31 431.30,225.32 431.54,225.32 431.78,225.32 432.01,225.32 432.25,225.32 432.49,225.32 432.73,225.32 432.96,225.32 433.20,225.32 433.44,225.32 433.68,225.32 433.91,225.32 434.15,225.32 434.39,225.32 434.63,225.33 434.86,225.33 435.10,225.33 435.34,225.33 435.58,225.33 435.81,225.33 436.05,225.33 436.29,225.33 436.53,225.33 436.76,225.33 437.00,225.33 437.24,225.33 437.48,225.33 437.71,225.33 437.95,225.33 438.19,225.33 438.43,225.33 438.66,225.33 438.90,225.34 439.14,225.34 439.38,225.34 439.61,225.34 439.85,225.34 440.09,225.34 440.33,225.34 440.56,225.34 440.80,225.34 441.04,225.34 441.28,225.34 441.51,225.34 441.75,225.34 441.99,225.34 442.23,225.34 442.46,225.34 442.70,225.34 442.94,225.34 443.18,225.34 443.41,225.34 443.65,225.34 443.89,225.34 444.13,225.34 444.36,225.34 444.60,225.34 444.84,225.34 445.08,225.34 445.31,225.34 445.55,225.35 445.79,225.35 446.03,225.35 446.26,225.35 446.50,225.35 446.74,225.35 446.98,225.35 447.21,225.35 447.45,225.35 447.69,225.35 447.93,225.35 448.16,225.35 448.40,225.35 448.64,225.35 448.88,225.35 449.11,225.35 449.35,225.35 449.59,225.35 449.83,225.35 450.06,225.35 450.30,225.35 450.54,225.35 450.78,225.35 451.01,225.35 451.25,225.35 451.49,225.35 451.73,225.35 451.96,225.35 452.20,225.35 452.44,225.35 452.68,225.35 452.91,225.35 453.15,225.35 453.39,225.35 453.63,225.35 453.86,225.35 454.10,225.35 454.34,225.35 454.58,225.35 454.81,225.35 455.05,225.35 455.29,225.35 455.53,225.35 455.76,225.35 456.00,225.35 456.24,225.35 456.48,225.35 456.71,225.35 456.95,225.35 457.19,225.35 457.43,225.35 457.66,225.35 457.90,225.35 458.14,225.35 458.38,225.35 458.61,225.35 458.85,225.36 459.09,225.36 459.33,225.36 459.56,225.36 459.80,225.36 460.04,225.36 460.28,225.36 460.51,225.36 460.75,225.36 460.99,225.36 461.23,225.36 461.46,225.36 461.70,225.36 461.94,225.36 462.18,225.36 462.41,225.36 462.65,225.36 462.89,225.36 463.13,225.36 463.36,225.36 463.60,225.36 463.84,225.36 464.08,225.36 464.31,225.36 464.55,225.36 464.79,225.36 465.03,225.36 465.26,225.36 465.50,225.36 465.74,225.36 465.98,225.36 466.21,225.36 466.45,225.36 466.69,225.36 466.93,225.36 467.16,225.36 467.40,225.36 467.64,225.36 467.88,225.36 468.11,225.36 468.35,225.36 468.59,225.36 468.83,225.36 469.06,225.36 469.30,225.36 469.54,225.36 469.78,225.36 470.01,225.36 470.25,225.36 470.49,225.36 470.73,225.36 470.96,225.36 471.20,225.36 471.44,225.36 471.68,225.36 471.91,225.36 472.15,225.36 472.39,225.36 472.63,225.36 472.86,225.36 473.10,225.36 473.34,225.36 473.58,225.36 473.81,225.36 474.05,225.36 474.29,225.36 474.53,225.36 474.76,225.36 475.00,225.36 475.24,225.36 475.48,225.36 475.71,225.36 475.95,225.36 476.19,225.36 476.43,225.36 476.66,225.36 476.90,225.36 477.14,225.36 477.38,225.36 477.61,225.36 477.85,225.36 478.09,225.36 478.33,225.36 478.56,225.36 478.80,225.36 479.04,225.36 479.28,225.36 479.51,225.36 479.75,225.36 479.99,225.36 480.23,225.36 480.46,225.36 480.70,225.36 480.94,225.36 481.18,225.36 481.41,225.36 481.65,225.36 481.89,225.36 482.13,225.36 482.36,225.36 482.60,225.36 482.84,225.36 483.08,225.36 483.31,225.36 483.55,225.36 483.79,225.36 484.03,225.36 484.26,225.36 484.50,225.36 484.74,225.36 484.98,225.36 485.21,225.36 485.45,225.36 485.69,225.36 485.93,225.36 486.16,225.36 486.40,225.36 486.64,225.36 486.88,225.36 487.11,225.36 487.35,225.36 487.59,225.36 487.83,225.36 488.06,225.36 488.30,225.36 488.54,225.36 488.78,225.36 489.01,225.36 489.25,225.36 489.49,225.36 489.73,225.36 489.96,225.36 490.20,225.36 490.44,225.36 490.68,225.36 490.91,225.36 491.15,225.36 491.39,225.36 491.63,225.36 491.86,225.36 492.10,225.36 492.34,225.36" fill="none" stroke="#000" stroke-width="1.1"/>
<polyline points="351.02,56.19 351.26,57.25 351.50,58.34 351.74,59.45 351.98,60.60 352.21,61.77 352.45,62.96 352.69,64.19 352.93,65.44 353.16,66.72 353.40,68.02 353.64,69.35 353.88,70.70 354.11,72.08 354.35,73.48 354.59,74.91 354.82,76.36 355.06,77.83 355.30,79.32 355.54,80.83 355.77,82.35 356.01,83.90 356.25,85.47 356.49,87.05 356.72,88.64 356.96,90.25 357.20,91.87 357.44,93.51 357.67,95.15 357.91,96.81 358.15,98.47 358.39,100.14 358.62,101.82 358.86,103.51 359.10,105.19 359.34,106.88 359.57,108.58 359.81,110.27 360.05,111.96 360.29,113.65 360.52,115.34 360.76,117.03 361.00,118.71 361.24,120.38 361.47,122.05 361.71,123.72 361.95,125.37 362.19,127.01 362.42,128.65 362.66,130.27 362.90,131.88 363.14,133.48 363.38,135.06 363.61,136.64 363.85,138.19 364.09,139.73 364.33,141.26 364.56,142.77 364.80,144.26 365.04,145.74 365.28,147.20 365.51,148.64 365.75,150.06 365.99,151.46 366.23,152.85 366.46,154.21 366.70,155.56 366.94,156.88 367.18,158.19 367.41,159.47 367.65,160.74 367.89,161.99 368.13,163.21 368.36,164.42 368.60,165.60 368.84,166.77 369.08,167.91 369.31,169.04 369.55,170.14 369.79,171.22 370.03,172.29 370.26,173.33 370.50,174.36 370.74,175.37 370.98,176.35 371.21,177.32 371.45,178.27 371.69,179.20 371.93,180.11 372.16,181.00 372.40,181.88 372.64,182.74 372.88,183.58 373.11,184.40 373.35,185.20 373.59,185.99 373.83,186.77 374.06,187.52 374.30,188.26 374.54,188.99 374.78,189.70 375.01,190.39 375.25,191.07 375.49,191.73 375.73,192.38 375.96,193.02 376.20,193.64 376.44,194.25 376.68,194.84 376.91,195.42 377.15,195.99 377.39,196.55 377.63,197.09 377.86,197.62 378.10,198.14 378.34,198.65 378.58,199.15 378.81,199.63 379.05,200.11 379.29,200.57 379.53,201.02 379.76,201.47 380.00,201.90 380.24,202.33 380.48,202.74 380.71,203.14 380.95,203.54 381.19,203.93 381.43,204.31 381.66,204.68 381.90,205.04 382.14,205.39 382.38,205.74 382.61,206.07 382.85,206.40 383.09,206.73 383.33,207.04 383.56,207.35 383.80,207.65 384.04,207.95 384.28,208.23 384.51,208.52 384.75,208.79 384.99,209.06 385.23,209.32 385.46,209.58 385.70,209.83 385.94,210.08 386.18,210.32 386.41,210.55 386.65,210.78 386.89,211.01 387.13,211.23 387.36,211.44 387.60,211.65 387.84,211.86 388.08,212.06 388.31,212.26 388.55,212.45 388.79,212.64 389.03,212.82 389.26,213.00 389.50,213.18 389.74,213.35 389.98,213.52 390.21,213.69 390.45,213.85 390.69,214.01 390.93,214.16 391.16,214.31 391.40,214.46 391.64,214.61 391.88,214.75 392.11,214.89 392.35,215.02 392.59,215.16 392.83,215.29 393.06,215.42 393.30,215.54 393.54,215.66 393.78,215.78 394.01,215.90 394.25,216.02 394.49,216.13 394.73,216.24 394.96,216.35 395.20,216.45 395.44,216.56 395.68,216.66 395.91,216.76 396.15,216.85 396.39,216.95 396.63,217.04 396.86,217.13 397.10,217.22 397.34,217.31 397.58,217.40 397.81,217.48 398.05,217.56 398.29,217.64 398.53,217.72 398.76,217.80 399.00,217.88 399.24,217.95 399.48,218.03 399.71,218.10 399.95,218.17 400.19,218.24 400.43,218.30 400.66,218.37 400.90,218.44 401.14,218.50 401.38,218.56 401.61,218.62 401.85,218.68 402.09,218.74 402.33,218.80 402.56,218.86 402.80,218.91 403.04,218.97 403.28,219.02 403.51,219.07 403.75,219.13 403.99,219.18 404.23,219.23 404.46,219.27 404.70,219.32 404.94,219.37 405.18,219.41 405.41,219.46 405.65,219.50 405.89,219.55 406.13,219.59 406.36,219.63 406.60,219.67 406.84,219.71 407.08,219.75 407.31,219.79 407.55,219.83 407.79,219.87 408.03,219.91 408.26,219.94 408.50,219.98 408.74,220.01 408.98,220.05 409.21,220.08 409.45,220.11 409.69,220.15 409.93,220.18 410.16,220.21 410.40,220.24 410.64,220.27 410.88,220.30 411.11,220.33 411.35,220.36 411.59,220.39 411.83,220.41 412.06,220.44 412.30,220.47 412.54,220.49 412.78,220.52 413.01,220.54 413.25,220.57 413.49,220.59 413.73,220.62 413.96,220.64 414.20,220.67 414.44,220.69 414.68,220.71 414.91,220.73 415.15,220.75 415.39,220.78 415.63,220.80 415.86,220.82 416.10,220.84 416.34,220.86 416.58,220.88 416.81,220.90 417.05,220.92 417.29,220.93 417.53,220.95 417.76,220.97 418.00,220.99 418.24,221.01 418.48,221.02 418.71,221.04 418.95,221.06 419.19,221.07 419.43,221.09 419.66,221.11 419.90,221.12 420.14,221.14 420.38,221.15 420.61,221.17 420.85,221.18 421.09,221.20 421.33,221.21 421.56,221.22 421.80,221.24 422.04,221.25 422.28,221.26 422.51,221.28 422.75,221.29 422.99,221.30 423.23,221.32 423.46,221.33 423.70,221.34 423.94,221.35 424.18,221.36 424.41,221.37 424.65,221.39 424.89,221.40 425.13,221.41 425.36,221.42 425.60,221.43 425.84,221.44 426.08,221.45 426.31,221.46 426.55,221.47 426.79,221.48 427.03,221.49 427.26,221.50 427.50,221.51 427.74,221.52 427.98,221.53 428.21,221.54 428.45,221.55 428.69,221.56 428.93,221.56 429.16,221.57 429.40,221.58 429.64,221.59 429.88,221.60 430.11,221.61 430.35,221.61 430.59,221.62 430.83,221.63 431.06,221.64 431.30,221.64 431.54,221.65 431.78,221.66 432.01,221.67 432.25,221.67 432.49,221.68 432.73,221.69 432.96,221.69 433.20,221.70 433.44,221.71 433.68,221.71 433.91,221.72 434.15,221.73 434.39,221.73 434.63,221.74 434.86,221.74 435.10,221.75 435.34,221.76 435.58,221.76 435.81,221.77 436.05,221.77 436.29,221.78 436.53,221.78 436.76,221.79 437.00,221.79 437.24,221.80 437.48,221.81 437.71,221.81 437.95,221.82 438.19,221.82 438.43,221.83 438.66,221.83 438.90,221.83 439.14,221.84 439.38,221.84 439.61,221.85 439.85,221.85 440.09,221.86 440.33,221.86 440.56,221.87 440.80,221.87 441.04,221.87 441.28,221.88 441.51,221.88 441.75,221.89 441.99,221.89 442.23,221.90 442.46,221.90 442.70,221.90 442.94,221.91 443.18,221.91 443.41,221.91 443.65,221.92 443.89,221.92 444.13,221.93 444.36,221.93 444.60,221.93 444.84,221.94 445.08,221.94 445.31,221.94 445.55,221.95 445.79,221.95 446.03,221.95 446.26,221.96 446.50,221.96 446.74,221.96 446.98,221.96 447.21,221.97 447.45,221.97 447.69,221.97 447.93,221.98 448.16,221.98 448.40,221.98 448.64,221.98 448.88,221.99 449.11,221.99 449.35,221.99 449.59,222.00 449.83,222.00 450.06,222.00 450.30,222.00 450.54,222.01 450.78,222.01 451.01,222.01 451.25,222.01 451.49,222.02 451.73,222.02 451.96,222.02 452.20,222.02 452.44,222.02 452.68,222.03 452.91,222.03 453.15,222.03 453.39,222.03 453.63,222.04 453.86,222.04 454.10,222.04 454.34,222.04 454.58,222.04 454.81,222.05 455.05,222.05 455.29,222.05 455.53,222.05 455.76,222.05 456.00,222.06 456.24,222.06 456.48,222.06 456.71,222.06 456.95,222.06 457.19,222.07 457.43,222.07 457.66,222.07 457.90,222.07 458.14,222.07 458.38,222.07 458.61,222.08 458.85,222.08 459.09,222.08 459.33,222.08 459.56,222.08 459.80,222.08 460.04,222.09 460.28,222.09 460.51,222.09 460.75,222.09 460.99,222.09 461.23,222.09 461.46,222.09 461.70,222.10 461.94,222.10 462.18,222.10 462.41,222.10 462.65,222.10 462.89,222.10 463.13,222.10 463.36,222.11 463.60,222.11 463.84,222.11 464.08,222.11 464.31,222.11 464.55,222.11 464.79,222.11 465.03,222.11 465.26,222.12 465.50,222.12 465.74,222.12 465.98,222.12 466.21,222.12 466.45,222.12 466.69,222.12 466.93,222.12 467.16,222.12 467.40,222.13 467.64,222.13 467.88,222.13 468.11,222.13 468.35,222.13 468.59,222.13 468.83,222.13 469.06,222.13 469.30,222.13 469.54,222.14 469.78,222.14 470.01,222.14 470.25,222.14 470.49,222.14 470.73,222.14 470.96,222.14 471.20,222.14 471.44,222.14 471.68,222.14 471.91,222.14 472.15,222.15 472.39,222.15 472.63,222.15 472.86,222.15 473.10,222.15 473.34,222.15 473.58,222.15 473.81,222.15 474.05,222.15 474.29,222.15 474.53,222.15 474.76,222.15 475.00,222.16 475.24,222.16 475.48,222.16 475.71,222.16 475.95,222.16 476.19,222.16 476.43,222.16 476.66,222.16 476.90,222.16 477.14,222.16 477.38,222.16 477.61,222.16 477.85,222.16 478.09,222.17 478.33,222.17 478.56,222.17 478.80,222.17 479.04,222.17 479.28,222.17 479.51,222.17 479.75,222.17 479.99,222.17 480.23,222.17 480.46,222.17 480.70,222.17 480.94,222.17 481.18,222.17 481.41,222.17 481.65,222.17 481.89,222.18 482.13,222.18 482.36,222.18 482.60,222.18 482.84,222.18 483.08,222.18 483.31,222.18 483.55,222.18 483.79,222.18 484.03,222.18 484.26,222.18 484.50,222.18 484.74,222.18 484.98,222.18 485.21,222.18 485.45,222.18 485.69,222.18 485.93,222.18 486.16,222.18 486.40,222.19 486.64,222.19 486.88,222.19 487.11,222.19 487.35,222.19 487.59,222.19 487.83,222.19 488.06,222.19 488.30,222.19 488.54,222.19 488.78,222.19 489.01,222.19 489.25,222.19 489.49,222.19 489.73,222.19 489.96,222.19 490.20,222.19 490.44,222.19 490.68,222.19 490.91,222.19 491.15,222.19 491.39,222.19 491.63,222.19 491.86,222.20 492.10,222.20 492.34,222.20" fill="none" stroke="#000" stroke-width="1.1"/>
<polyline points="351.02,179.33 351.26,179.96 351.50,180.60 351.74,181.25 351.98,181.91 352.21,182.58 352.45,183.25 352.69,183.93 352.93,184.62 353.16,185.31 353.40,186.01 353.64,186.71 353.88,187.42 354.11,188.12 354.35,188.83 354.59,189.54 354.82,190.26 355.06,190.97 355.30,191.68 355.54,192.39 355.77,193.10 356.01,193.81 356.25,194.51 356.49,195.21 356.72,195.91 356.96,196.60 357.20,197.28 357.44,197.96 357.67,198.64 357.91,199.30 358.15,199.96 358.39,200.62 358.62,201.26 358.86,201.90 359.10,202.53 359.34,203.15 359.57,203.76 359.81,204.37 360.05,204.96 360.29,205.54 360.52,206.12 360.76,206.68 361.00,207.24 361.24,207.78 361.47,208.32 361.71,208.84 361.95,209.35 362.19,209.86 362.42,210.35 362.66,210.84 362.90,211.31 363.14,211.77 363.38,212.23 363.61,212.67 363.85,213.10 364.09,213.53 364.33,213.94 364.56,214.35 364.80,214.74 365.04,215.13 365.28,215.51 365.51,215.87 365.75,216.23 365.99,216.58 366.23,216.92 366.46,217.26 366.70,217.58 366.94,217.90 367.18,218.21 367.41,218.51 367.65,218.80 367.89,219.08 368.13,219.36 368.36,219.63 368.60,219.90 368.84,220.15 369.08,220.40 369.31,220.65 369.55,220.88 369.79,221.12 370.03,221.34 370.26,221.56 370.50,221.77 370.74,221.98 370.98,222.18 371.21,222.38 371.45,222.57 371.69,222.75 371.93,222.93 372.16,223.11 372.40,223.28 372.64,223.45 372.88,223.61 373.11,223.77 373.35,223.92 373.59,224.07 373.83,224.21 374.06,224.36 374.30,224.49 374.54,224.63 374.78,224.76 375.01,224.88 375.25,225.01 375.49,225.13 375.73,225.25 375.96,225.36 376.20,225.47 376.44,225.58 376.68,225.68 376.91,225.78 377.15,225.88 377.39,225.98 377.63,226.07 377.86,226.17 378.10,226.26 378.34,226.34 378.58,226.43 378.81,226.51 379.05,226.59 379.29,226.67 379.53,226.74 379.76,226.82 380.00,226.89 380.24,226.96 380.48,227.03 380.71,227.10 380.95,227.16 381.19,227.23 381.43,227.29 381.66,227.35 381.90,227.41 382.14,227.46 382.38,227.52 382.61,227.57 382.85,227.63 383.09,227.68 383.33,227.73 383.56,227.78 383.80,227.82 384.04,227.87 384.28,227.92 384.51,227.96 384.75,228.00 384.99,228.05 385.23,228.09 385.46,228.13 385.70,228.17 385.94,228.21 386.18,228.24 386.41,228.28 386.65,228.31 386.89,228.35 387.13,228.38 387.36,228.42 387.60,228.45 387.84,228.48 388.08,228.51 388.31,228.54 388.55,228.57 388.79,228.60 389.03,228.63 389.26,228.65 389.50,228.68 389.74,228.71 389.98,228.73 390.21,228.76 390.45,228.78 390.69,228.80 390.93,228.83 391.16,228.85 391.40,228.87 391.64,228.89 391.88,228.91 392.11,228.93 392.35,228.95 392.59,228.97 392.83,228.99 393.06,229.01 393.30,229.03 393.54,229.05 393.78,229.07 394.01,229.08 394.25,229.10 394.49,229.12 394.73,229.13 394.96,229.15 395.20,229.16 395.44,229.18 395.68,229.19 395.91,229.21 396.15,229.22 396.39,229.24 396.63,229.25 396.86,229.26 397.10,229.28 397.34,229.29 397.58,229.30 397.81,229.31 398.05,229.32 398.29,229.34 398.53,229.35 398.76,229.36 399.00,229.37 399.24,229.38 399.48,229.39 399.71,229.40 399.95,229.41 400.19,229.42 400.43,229.43 400.66,229.44 400.90,229.45 401.14,229.46 401.38,229.47 401.61,229.48 401.85,229.48 402.09,229.49 402.33,229.50 402.56,229.51 402.80,229.52 403.04,229.52 403.28,229.53 403.51,229.54 403.75,229.55 403.99,229.55 404.23,229.56 404.46,229.57 404.70,229.57 404.94,229.58 405.18,229.59 405.41,229.59 405.65,229.60 405.89,229.60 406.13,229.61 406.36,229.62 406.60,229.62 406.84,229.63 407.08,229.63 407.31,229.64 407.55,229.64 407.79,229.65 408.03,229.65 408.26,229.66 408.50,229.66 408.74,229.67 408.98,229.67 409.21,229.68 409.45,229.68 409.69,229.69 409.93,229.69 410.16,229.70 410.40,229.70 410.64,229.70 410.88,229.71 411.11,229.71 411.35,229.72 411.59,229.72 411.83,229.72 412.06,229.73 412.30,229.73 412.54,229.74 412.78,229.74 413.01,229.74 413.25,229.75 413.49,229.75 413.73,229.75 413.96,229.76 414.20,229.76 414.44,229.76 414.68,229.76 414.91,229.77 415.15,229.77 415.39,229.77 415.63,229.78 415.86,229.78 416.10,229.78 416.34,229.78 416.58,229.79 416.81,229.79 417.05,229.79 417.29,229.80 417.53,229.80 417.76,229.80 418.00,229.80 418.24,229.80 418.48,229.81 418.71,229.81 418.95,229.81 419.19,229.81 419.43,229.82 419.66,229.82 419.90,229.82 420.14,229.82 420.38,229.82 420.61,229.83 420.85,229.83 421.09,229.83 421.33,229.83 421.56,229.83 421.80,229.84 422.04,229.84 422.28,229.84 422.51,229.84 422.75,229.84 422.99,229.84 423.23,229.85 423.46,229.85 423.70,229.85 423.94,229.85 424.18,229.85 424.41,229.85 424.65,229.86 424.89,229.86 425.13,229.86 425.36,229.86 425.60,229.86 425.84,229.86 426.08,229.86 426.31,229.87 426.55,229.87 426.79,229.87 427.03,229.87 427.26,229.87 427.50,229.87 427.74,229.87 427.98,229.87 428.21,229.88 428.45,229.88 428.69,229.88 428.93,229.88 429.16,229.88 429.40,229.88 429.64,229.88 429.88,229.88 430.11,229.88 430.35,229.89 430.59,229.89 430.83,229.89 431.06,229.89 431.30,229.89 431.54,229.89 431.78,229.89 432.01,229.89 432.25,229.89 432.49,229.89 432.73,229.90 432.96,229.90 433.20,229.90 433.44,229.90 433.68,229.90 433.91,229.90 434.15,229.90 434.39,229.90 434.63,229.90 434.86,229.90 435.10,229.90 435.34,229.90 435.58,229.91 435.81,229.91 436.05,229.91 436.29,229.91 436.53,229.91 436.76,229.91 437.00,229.91 437.24,229.91 437.48,229.91 437.71,229.91 437.95,229.91 438.19,229.91 438.43,229.91 438.66,229.91 438.90,229.91 439.14,229.92 439.38,229.92 439.61,229.92 439.85,229.92 440.09,229.92 440.33,229.92 440.56,229.92 440.80,229.92 441.04,229.92 441.28,229.92 441.51,229.92 441.75,229.92 441.99,229.92 442.23,229.92 442.46,229.92 442.70,229.92 442.94,229.92 443.18,229.92 443.41,229.92 443.65,229.93 443.89,229.93 444.13,229.93 444.36,229.93 444.60,229.93 444.84,229.93 445.08,229.93 445.31,229.93 445.55,229.93 445.79,229.93 446.03,229.93 446.26,229.93 446.50,229.93 446.74,229.93 446.98,229.93 447.21,229.93 447.45,229.93 447.69,229.93 447.93,229.93 448.16,229.93 448.40,229.93 448.64,229.93 448.88,229.93 449.11,229.93 449.35,229.93 449.59,229.94 449.83,229.94 450.06,229.94 450.30,229.94 450.54,229.94 450.78,229.94 451.01,229.94 451.25,229.94 451.49,229.94 451.73,229.94 451.96,229.94 452.20,229.94 452.44,229.94 452.68,229.94 452.91,229.94 453.15,229.94 453.39,229.94 453.63,229.94 453.86,229.94 454.10,229.94 454.34,229.94 454.58,229.94 454.81,229.94 455.05,229.94 455.29,229.94 455.53,229.94 455.76,229.94 456.00,229.94 456.24,229.94 456.48,229.94 456.71,229.94 456.95,229.94 457.19,229.94 457.43,229.94 457.66,229.94 457.90,229.94 458.14,229.94 458.38,229.95 458.61,229.95 458.85,229.95 459.09,229.95 459.33,229.95 459.56,229.95 459.80,229.95 460.04,229.95 460.28,229.95 460.51,229.95 460.75,229.95 460.99,229.95 461.23,229.95 461.46,229.95 461.70,229.95 461.94,229.95 462.18,229.95 462.41,229.95 462.65,229.95 462.89,229.95 463.13,229.95 463.36,229.95 463.60,229.95 463.84,229.95 464.08,229.95 464.31,229.95 464.55,229.95 464.79,229.95 465.03,229.95 465.26,229.95 465.50,229.95 465.74,229.95 465.98,229.95 466.21,229.95 466.45,229.95 466.69,229.95 466.93,229.95 467.16,229.95 467.40,229.95 467.64,229.95 467.88,229.95 468.11,229.95 468.35,229.95 468.59,229.95 468.83,229.95 469.06,229.95 469.30,229.95 469.54,229.95 469.78,229.95 470.01,229.95 470.25,229.95 470.49,229.95 470.73,229.95 470.96,229.95 471.20,229.95 471.44,229.95 471.68,229.95 471.91,229.95 472.15,229.95 472.39,229.95 472.63,229.95 472.86,229.95 473.10,229.95 473.34,229.95 473.58,229.95 473.81,229.95 474.05,229.96 474.29,229.96 474.53,229.96 474.76,229.96 475.00,229.96 475.24,229.96 475.48,229.96 475.71,229.96 475.95,229.96 476.19,229.96 476.43,229.96 476.66,229.96 476.90,229.96 477.14,229.96 477.38,229.96 477.61,229.96 477.85,229.96 478.09,229.96 478.33,229.96 478.56,229.96 478.80,229.96 479.04,229.96 479.28,229.96 479.51,229.96 479.75,229.96 479.99,229.96 480.23,229.96 480.46,229.96 480.70,229.96 480.94,229.96 481.18,229.96 481.41,229.96 481.65,229.96 481.89,229.96 482.13,229.96 482.36,229.96 482.60,229.96 482.84,229.96 483.08,229.96 483.31,229.96 483.55,229.96 483.79,229.96 484.03,229.96 484.26,229.96 484.50,229.96 484.74,229.96 484.98,229.96 485.21,229.96 485.45,229.96 485.69,229.96 485.93,229.96 486.16,229.96 486.40,229.96 486.64,229.96 486.88,229.96 487.11,229.96 487.35,229.96 487.59,229.96 487.83,229.96 488.06,229.96 488.30,229.96 488.54,229.96 488.78,229.96 489.01,229.96 489.25,229.96 489.49,229.96 489.73,229.96 489.96,229.96 490.20,229.96 490.44,229.96 490.68,229.96 490.91,229.96 491.15,229.96 491.39,229.96 491.63,229.96 491.86,229.96 492.10,229.96 492.34,229.96" fill="none" stroke="#000" stroke-width="1.1"/>
<polyline points="351.02,188.98 351.26,189.45 351.50,189.92 351.74,190.40 351.98,190.88 352.21,191.35 352.45,191.83 352.69,192.31 352.93,192.79 353.16,193.27 353.40,193.75 353.64,194.23 353.88,194.71 354.11,195.18 354.35,195.66 354.59,196.13 354.82,196.60 355.06,197.07 355.30,197.54 355.54,198.00 355.77,198.47 356.01,198.93 356.25,199.38 356.49,199.84 356.72,200.29 356.96,200.73 357.20,201.18 357.44,201.62 357.67,202.05 357.91,202.49 358.15,202.91 358.39,203.34 358.62,203.76 358.86,204.17 359.10,204.58 359.34,204.99 359.57,205.39 359.81,205.79 360.05,206.18 360.29,206.57 360.52,206.95 360.76,207.33 361.00,207.71 361.24,208.07 361.47,208.44 361.71,208.80 361.95,209.15 362.19,209.50 362.42,209.84 362.66,210.18 362.90,210.51 363.14,210.84 363.38,211.17 363.61,211.49 363.85,211.80 364.09,212.11 364.33,212.41 364.56,212.71 364.80,213.01 365.04,213.30 365.28,213.58 365.51,213.87 365.75,214.14 365.99,214.41 366.23,214.68 366.46,214.94 366.70,215.20 366.94,215.45 367.18,215.70 367.41,215.95 367.65,216.19 367.89,216.43 368.13,216.66 368.36,216.89 368.60,217.11 368.84,217.33 369.08,217.55 369.31,217.76 369.55,217.97 369.79,218.18 370.03,218.38 370.26,218.57 370.50,218.77 370.74,218.96 370.98,219.15 371.21,219.33 371.45,219.51 371.69,219.69 371.93,219.86 372.16,220.03 372.40,220.20 372.64,220.37 372.88,220.53 373.11,220.69 373.35,220.84 373.59,220.99 373.83,221.14 374.06,221.29 374.30,221.44 374.54,221.58 374.78,221.72 375.01,221.85 375.25,221.99 375.49,222.12 375.73,222.25 375.96,222.38 376.20,222.50 376.44,222.62 376.68,222.74 376.91,222.86 377.15,222.97 377.39,223.09 377.63,223.20 377.86,223.31 378.10,223.42 378.34,223.52 378.58,223.62 378.81,223.73 379.05,223.83 379.29,223.92 379.53,224.02 379.76,224.11 380.00,224.21 380.24,224.30 380.48,224.39 380.71,224.47 380.95,224.56 381.19,224.64 381.43,224.73 381.66,224.81 381.90,224.89 382.14,224.97 382.38,225.04 382.61,225.12 382.85,225.19 383.09,225.27 383.33,225.34 383.56,225.41 383.80,225.48 384.04,225.55 384.28,225.61 384.51,225.68 384.75,225.74 384.99,225.80 385.23,225.87 385.46,225.93 385.70,225.99 385.94,226.05 386.18,226.10 386.41,226.16 386.65,226.22 386.89,226.27 387.13,226.33 387.36,226.38 387.60,226.43 387.84,226.48 388.08,226.53 388.31,226.58 388.55,226.63 388.79,226.68 389.03,226.73 389.26,226.77 389.50,226.82 389.74,226.86 389.98,226.91 390.21,226.95 390.45,226.99 390.69,227.03 390.93,227.07 391.16,227.11 391.40,227.15 391.64,227.19 391.88,227.23 392.11,227.27 392.35,227.31 392.59,227.34 392.83,227.38 393.06,227.41 393.30,227.45 393.54,227.48 393.78,227.52 394.01,227.55 394.25,227.58 394.49,227.61 394.73,227.64 394.96,227.68 395.20,227.71 395.44,227.74 395.68,227.77 395.91,227.79 396.15,227.82 396.39,227.85 396.63,227.88 396.86,227.91 397.10,227.93 397.34,227.96 397.58,227.98 397.81,228.01 398.05,228.04 398.29,228.06 398.53,228.08 398.76,228.11 399.00,228.13 399.24,228.16 399.48,228.18 399.71,228.20 399.95,228.22 400.19,228.25 400.43,228.27 400.66,228.29 400.90,228.31 401.14,228.33 401.38,228.35 401.61,228.37 401.85,228.39 402.09,228.41 402.33,228.43 402.56,228.45 402.80,228.47 403.04,228.48 403.28,228.50 403.51,228.52 403.75,228.54 403.99,228.55 404.23,228.57 404.46,228.59 404.70,228.60 404.94,228.62 405.18,228.64 405.41,228.65 405.65,228.67 405.89,228.68 406.13,228.70 406.36,228.71 406.60,228.73 406.84,228.74 407.08,228.76 407.31,228.77 407.55,228.78 407.79,228.80 408.03,228.81 408.26,228.82 408.50,228.84 408.74,228.85 408.98,228.86 409.21,228.88 409.45,228.89 409.69,228.90 409.93,228.91 410.16,228.92 410.40,228.94 410.64,228.95 410.88,228.96 411.11,228.97 411.35,228.98 411.59,228.99 411.83,229.00 412.06,229.01 412.30,229.02 412.54,229.03 412.78,229.04 413.01,229.05 413.25,229.06 413.49,229.07 413.73,229.08 413.96,229.09 414.20,229.10 414.44,229.11 414.68,229.12 414.91,229.13 415.15,229.14 415.39,229.15 415.63,229.16 415.86,229.16 416.10,229.17 416.34,229.18 416.58,229.19 416.81,229.20 417.05,229.21 417.29,229.21 417.53,229.22 417.76,229.23 418.00,229.24 418.24,229.24 418.48,229.25 418.71,229.26 418.95,229.27 419.19,229.27 419.43,229.28 419.66,229.29 419.90,229.30 420.14,229.30 420.38,229.31 420.61,229.32 420.85,229.32 421.09,229.33 421.33,229.33 421.56,229.34 421.80,229.35 422.04,229.35 422.28,229.36 422.51,229.37 422.75,229.37 422.99,229.38 423.23,229.38 423.46,229.39 423.70,229.39 423.94,229.40 424.18,229.41 424.41,229.41 424.65,229.42 424.89,229.42 425.13,229.43 425.36,229.43 425.60,229.44 425.84,229.44 426.08,229.45 426.31,229.45 426.55,229.46 426.79,229.46 427.03,229.47 427.26,229.47 427.50,229.48 427.74,229.48 427.98,229.49 428.21,229.49 428.45,229.49 428.69,229.50 428.93,229.50 429.16,229.51 429.40,229.51 429.64,229.52 429.88,229.52 430.11,229.52 430.35,229.53 430.59,229.53 430.83,229.54 431.06,229.54 431.30,229.54 431.54,229.55 431.78,229.55 432.01,229.56 432.25,229.56 432.49,229.56 432.73,229.57 432.96,229.57 433.20,229.57 433.44,229.58 433.68,229.58 433.91,229.58 434.15,229.59 434.39,229.59 434.63,229.59 434.86,229.60 435.10,229.60 435.34,229.60 435.58,229.61 435.81,229.61 436.05,229.61 436.29,229.62 436.53,229.62 436.76,229.62 437.00,229.63 437.24,229.63 437.48,229.63 437.71,229.64 437.95,229.64 438.19,229.64 438.43,229.64 438.66,229.65 438.90,229.65 439.14,229.65 439.38,229.65 439.61,229.66 439.85,229.66 440.09,229.66 440.33,229.66 440.56,229.67 440.80,229.67 441.04,229.67 441.28,229.67 441.51,229.68 441.75,229.68 441.99,229.68 442.23,229.68 442.46,229.69 442.70,229.69 442.94,229.69 443.18,229.69 443.41,229.70 443.65,229.70 443.89,229.70 444.13,229.70 444.36,229.70 444.60,229.71 444.84,229.71 445.08,229.71 445.31,229.71 445.55,229.72 445.79,229.72 446.03,229.72 446.26,229.72 446.50,229.72 446.74,229.73 446.98,229.73 447.21,229.73 447.45,229.73 447.69,229.73 447.93,229.73 448.16,229.74 448.40,229.74 448.64,229.74 448.88,229.74 449.11,229.74 449.35,229.75 449.59,229.75 449.83,229.75 450.06,229.75 450.30,229.75 450.54,229.75 450.78,229.76 451.01,229.76 451.25,229.76 451.49,229.76 451.73,229.76 451.96,229.76 452.20,229.77 452.44,229.77 452.68,229.77 452.91,229.77 453.15,229.77 453.39,229.77 453.63,229.77 453.86,229.78 454.10,229.78 454.34,229.78 454.58,229.78 454.81,229.78 455.05,229.78 455.29,229.78 455.53,229.79 455.76,229.79 456.00,229.79 456.24,229.79 456.48,229.79 456.71,229.79 456.95,229.79 457.19,229.79 457.43,229.80 457.66,229.80 457.90,229.80 458.14,229.80 458.38,229.80 458.61,229.80 458.85,229.80 459.09,229.80 459.33,229.81 459.56,229.81 459.80,229.81 460.04,229.81 460.28,229.81 460.51,229.81 460.75,229.81 460.99,229.81 461.23,229.81 461.46,229.82 461.70,229.82 461.94,229.82 462.18,229.82 462.41,229.82 462.65,229.82 462.89,229.82 463.13,229.82 463.36,229.82 463.60,229.83 463.84,229.83 464.08,229.83 464.31,229.83 464.55,229.83 464.79,229.83 465.03,229.83 465.26,229.83 465.50,229.83 465.74,229.83 465.98,229.83 466.21,229.84 466.45,229.84 466.69,229.84 466.93,229.84 467.16,229.84 467.40,229.84 467.64,229.84 467.88,229.84 468.11,229.84 468.35,229.84 468.59,229.84 468.83,229.85 469.06,229.85 469.30,229.85 469.54,229.85 469.78,229.85 470.01,229.85 470.25,229.85 470.49,229.85 470.73,229.85 470.96,229.85 471.20,229.85 471.44,229.85 471.68,229.85 471.91,229.86 472.15,229.86 472.39,229.86 472.63,229.86 472.86,229.86 473.10,229.86 473.34,229.86 473.58,229.86 473.81,229.86 474.05,229.86 474.29,229.86 474.53,229.86 474.76,229.86 475.00,229.86 475.24,229.87 475.48,229.87 475.71,229.87 475.95,229.87 476.19,229.87 476.43,229.87 476.66,229.87 476.90,229.87 477.14,229.87 477.38,229.87 477.61,229.87 477.85,229.87 478.09,229.87 478.33,229.87 478.56,229.87 478.80,229.87 479.04,229.88 479.28,229.88 479.51,229.88 479.75,229.88 479.99,229.88 480.23,229.88 480.46,229.88 480.70,229.88 480.94,229.88 481.18,229.88 481.41,229.88 481.65,229.88 481.89,229.88 482.13,229.88 482.36,229.88 482.60,229.88 482.84,229.88 483.08,229.88 483.31,229.89 483.55,229.89 483.79,229.89 484.03,229.89 484.26,229.89 484.50,229.89 484.74,229.89 484.98,229.89 485.21,229.89 485.45,229.89 485.69,229.89 485.93,229.89 486.16,229.89 486.40,229.89 486.64,229.89 486.88,229.89 487.11,229.89 487.35,229.89 487.59,229.89 487.83,229.89 488.06,229.89 488.30,229.89 488.54,229.90 488.78,229.90 489.01,229.90 489.25,229.90 489.49,229.90 489.73,229.90 489.96,229.90 490.20,229.90 490.44,229.90 490.68,229.90 490.91,229.90 491.15,229.90 491.39,229.90 491.63,229.90 491.86,229.90 492.10,229.90 492.34,229.90" fill="none" stroke="#000" stroke-width="1.1"/>
<polyline points="351.02,171.52 351.26,172.10 351.50,172.68 351.74,173.27 351.98,173.88 352.21,174.49 352.45,175.10 352.69,175.73 352.93,176.36 353.16,177.00 353.40,177.64 353.64,178.29 353.88,178.95 354.11,179.61 354.35,180.27 354.59,180.93 354.82,181.60 355.06,182.27 355.30,182.94 355.54,183.61 355.77,184.29 356.01,184.96 356.25,185.63 356.49,186.30 356.72,186.97 356.96,187.64 357.20,188.30 357.44,188.97 357.67,189.62 357.91,190.28 358.15,190.93 358.39,191.57 358.62,192.22 358.86,192.85 359.10,193.48 359.34,194.10 359.57,194.72 359.81,195.33 360.05,195.94 360.29,196.53 360.52,197.12 360.76,197.70 361.00,198.28 361.24,198.84 361.47,199.40 361.71,199.95 361.95,200.49 362.19,201.03 362.42,201.55 362.66,202.07 362.90,202.57 363.14,203.07 363.38,203.56 363.61,204.04 363.85,204.51 364.09,204.98 364.33,205.43 364.56,205.88 364.80,206.32 365.04,206.75 365.28,207.17 365.51,207.58 365.75,207.98 365.99,208.38 366.23,208.76 366.46,209.14 366.70,209.51 366.94,209.88 367.18,210.23 367.41,210.58 367.65,210.92 367.89,211.25 368.13,211.57 368.36,211.89 368.60,212.20 368.84,212.50 369.08,212.80 369.31,213.09 369.55,213.37 369.79,213.65 370.03,213.91 370.26,214.18 370.50,214.43 370.74,214.69 370.98,214.93 371.21,215.17 371.45,215.40 371.69,215.63 371.93,215.85 372.16,216.07 372.40,216.28 372.64,216.49 372.88,216.69 373.11,216.89 373.35,217.08 373.59,217.27 373.83,217.45 374.06,217.63 374.30,217.80 374.54,217.97 374.78,218.14 375.01,218.30 375.25,218.46 375.49,218.61 375.73,218.76 375.96,218.91 376.20,219.05 376.44,219.19 376.68,219.33 376.91,219.46 377.15,219.59 377.39,219.71 377.63,219.84 377.86,219.96 378.10,220.08 378.34,220.19 378.58,220.30 378.81,220.41 379.05,220.52 379.29,220.62 379.53,220.72 379.76,220.82 380.00,220.92 380.24,221.01 380.48,221.11 380.71,221.20 380.95,221.28 381.19,221.37 381.43,221.45 381.66,221.53 381.90,221.61 382.14,221.69 382.38,221.77 382.61,221.84 382.85,221.91 383.09,221.99 383.33,222.05 383.56,222.12 383.80,222.19 384.04,222.25 384.28,222.32 384.51,222.38 384.75,222.44 384.99,222.50 385.23,222.55 385.46,222.61 385.70,222.66 385.94,222.72 386.18,222.77 386.41,222.82 386.65,222.87 386.89,222.92 387.13,222.97 387.36,223.01 387.60,223.06 387.84,223.10 388.08,223.15 388.31,223.19 388.55,223.23 388.79,223.27 389.03,223.31 389.26,223.35 389.50,223.39 389.74,223.43 389.98,223.46 390.21,223.50 390.45,223.53 390.69,223.57 390.93,223.60 391.16,223.63 391.40,223.67 391.64,223.70 391.88,223.73 392.11,223.76 392.35,223.79 392.59,223.82 392.83,223.84 393.06,223.87 393.30,223.90 393.54,223.93 393.78,223.95 394.01,223.98 394.25,224.00 394.49,224.03 394.73,224.05 394.96,224.07 395.20,224.10 395.44,224.12 395.68,224.14 395.91,224.16 396.15,224.18 396.39,224.20 396.63,224.22 396.86,224.24 397.10,224.26 397.34,224.28 397.58,224.30 397.81,224.32 398.05,224.34 398.29,224.35 398.53,224.37 398.76,224.39 399.00,224.40 399.24,224.42 399.48,224.44 399.71,224.45 399.95,224.47 400.19,224.48 400.43,224.50 400.66,224.51 400.90,224.52 401.14,224.54 401.38,224.55 401.61,224.56 401.85,224.58 402.09,224.59 402.33,224.60 402.56,224.61 402.80,224.63 403.04,224.64 403.28,224.65 403.51,224.66 403.75,224.67 403.99,224.68 404.23,224.69 404.46,224.71 404.70,224.72 404.94,224.73 405.18,224.74 405.41,224.75 405.65,224.76 405.89,224.76 406.13,224.77 406.36,224.78 406.60,224.79 406.84,224.80 407.08,224.81 407.31,224.82 407.55,224.83 407.79,224.83 408.03,224.84 408.26,224.85 408.50,224.86 408.74,224.87 408.98,224.87 409.21,224.88 409.45,224.89 409.69,224.89 409.93,224.90 410.16,224.91 410.40,224.92 410.64,224.92 410.88,224.93 411.11,224.93 411.35,224.94 411.59,224.95 411.83,224.95 412.06,224.96 412.30,224.96 412.54,224.97 412.78,224.98 413.01,224.98 413.25,224.99 413.49,224.99 413.73,225.00 413.96,225.00 414.20,225.01 414.44,225.01 414.68,225.02 414.91,225.02 415.15,225.03 415.39,225.03 415.63,225.04 415.86,225.04 416.10,225.05 416.34,225.05 416.58,225.05 416.81,225.06 417.05,225.06 417.29,225.07 417.53,225.07 417.76,225.08 418.00,225.08 418.24,225.08 418.48,225.09 418.71,225.09 418.95,225.09 419.19,225.10 419.43,225.10 419.66,225.10 419.90,225.11 420.14,225.11 420.38,225.12 420.61,225.12 420.85,225.12 421.09,225.12 421.33,225.13 421.56,225.13 421.80,225.13 422.04,225.14 422.28,225.14 422.51,225.14 422.75,225.15 422.99,225.15 423.23,225.15 423.46,225.15 423.70,225.16 423.94,225.16 424.18,225.16 424.41,225.16 424.65,225.17 424.89,225.17 425.13,225.17 425.36,225.17 425.60,225.18 425.84,225.18 426.08,225.18 426.31,225.18 426.55,225.19 426.79,225.19 427.03,225.19 427.26,225.19 427.50,225.19 427.74,225.20 427.98,225.20 428.21,225.20 428.45,225.20 428.69,225.20 428.93,225.21 429.16,225.21 429.40,225.21 429.64,225.21 429.88,225.21 430.11,225.22 430.35,225.22 430.59,225.22 430.83,225.22 431.06,225.22 431.30,225.22 431.54,225.23 431.78,225.23 432.01,225.23 432.25,225.23 432.49,225.23 432.73,225.23 432.96,225.24 433.20,225.24 433.44,225.24 433.68,225.24 433.91,225.24 434.15,225.24 434.39,225.24 434.63,225.25 434.86,225.25 435.10,225.25 435.34,225.25 435.58,225.25 435.81,225.25 436.05,225.25 436.29,225.25 436.53,225.26 436.76,225.26 437.00,225.26 437.24,225.26 437.48,225.26 437.71,225.26 437.95,225.26 438.19,225.26 438.43,225.27 438.66,225.27 438.90,225.27 439.14,225.27 439.38,225.27 439.61,225.27 439.85,225.27 440.09,225.27 440.33,225.27 440.56,225.27 440.80,225.28 441.04,225.28 441.28,225.28 441.51,225.28 441.75,225.28 441.99,225.28 442.23,225.28 442.46,225.28 442.70,225.28 442.94,225.28 443.18,225.28 443.41,225.29 443.65,225.29 443.89,225.29 444.13,225.29 444.36,225.29 444.60,225.29 444.84,225.29 445.08,225.29 445.31,225.29 445.55,225.29 445.79,225.29 446.03,225.29 446.26,225.29 446.50,225.30 446.74,225.30 446.98,225.30 447.21,225.30 447.45,225.30 447.69,225.30 447.93,225.30 448.16,225.30 448.40,225.30 448.64,225.30 448.88,225.30 449.11,225.30 449.35,225.30 449.59,225.30 449.83,225.30 450.06,225.31 450.30,225.31 450.54,225.31 450.78,225.31 451.01,225.31 451.25,225.31 451.49,225.31 451.73,225.31 451.96,225.31 452.20,225.31 452.44,225.31 452.68,225.31 452.91,225.31 453.15,225.31 453.39,225.31 453.63,225.31 453.86,225.31 454.10,225.31 454.34,225.31 454.58,225.32 454.81,225.32 455.05,225.32 455.29,225.32 455.53,225.32 455.76,225.32 456.00,225.32 456.24,225.32 456.48,225.32 456.71,225.32 456.95,225.32 457.19,225.32 457.43,225.32 457.66,225.32 457.90,225.32 458.14,225.32 458.38,225.32 458.61,225.32 458.85,225.32 459.09,225.32 459.33,225.32 459.56,225.32 459.80,225.32 460.04,225.32 460.28,225.33 460.51,225.33 460.75,225.33 460.99,225.33 461.23,225.33 461.46,225.33 461.70,225.33 461.94,225.33 462.18,225.33 462.41,225.33 462.65,225.33 462.89,225.33 463.13,225.33 463.36,225.33 463.60,225.33 463.84,225.33 464.08,225.33 464.31,225.33 464.55,225.33 464.79,225.33 465.03,225.33 465.26,225.33 465.50,225.33 465.74,225.33 465.98,225.33 466.21,225.33 466.45,225.33 466.69,225.33 466.93,225.33 467.16,225.33 467.40,225.33 467.64,225.33 467.88,225.33 468.11,225.33 468.35,225.34 468.59,225.34 468.83,225.34 469.06,225.34 469.30,225.34 469.54,225.34 469.78,225.34 470.01,225.34 470.25,225.34 470.49,225.34 470.73,225.34 470.96,225.34 471.20,225.34 471.44,225.34 471.68,225.34 471.91,225.34 472.15,225.34 472.39,225.34 472.63,225.34 472.86,225.34 473.10,225.34 473.34,225.34 473.58,225.34 473.81,225.34 474.05,225.34 474.29,225.34 474.53,225.34 474.76,225.34 475.00,225.34 475.24,225.34 475.48,225.34 475.71,225.34 475.95,225.34 476.19,225.34 476.43,225.34 476.66,225.34 476.90,225.34 477.14,225.34 477.38,225.34 477.61,225.34 477.85,225.34 478.09,225.34 478.33,225.34 478.56,225.34 478.80,225.34 479.04,225.34 479.28,225.34 479.51,225.34 479.75,225.34 479.99,225.34 480.23,225.34 480.46,225.34 480.70,225.35 480.94,225.35 481.18,225.35 481.41,225.35 481.65,225.35 481.89,225.35 482.13,225.35 482.36,225.35 482.60,225.35 482.84,225.35 483.08,225.35 483.31,225.35 483.55,225.35 483.79,225.35 484.03,225.35 484.26,225.35 484.50,225.35 484.74,225.35 484.98,225.35 485.21,225.35 485.45,225.35 485.69,225.35 485.93,225.35 486.16,225.35 486.40,225.35 486.64,225.35 486.88,225.35 487.11,225.35 487.35,225.35 487.59,225.35 487.83,225.35 488.06,225.35 488.30,225.35 488.54,225.35 488.78,225.35 489.01,225.35 489.25,225.35 489.49,225.35 489.73,225.35 489.96,225.35 490.20,225.35 490.44,225.35 490.68,225.35 490.91,225.35 491.15,225.35 491.39,225.35 491.63,225.35 491.86,225.35 492.10,225.35 492.34,225.35" fill="none" stroke="#000" stroke-width="1.1"/>
<polyline points="351.02,199.63 351.26,199.90 351.50,200.17 351.74,200.45 351.98,200.73 352.21,201.01 352.45,201.29 352.69,201.57 352.93,201.86 353.16,202.15 353.40,202.43 353.64,202.72 353.88,203.02 354.11,203.31 354.35,203.61 354.59,203.90 354.82,204.20 355.06,204.50 355.30,204.79 355.54,205.09 355.77,205.39 356.01,205.69 356.25,205.99 356.49,206.29 356.72,206.59 356.96,206.89 357.20,207.19 357.44,207.49 357.67,207.79 357.91,208.09 358.15,208.39 358.39,208.69 358.62,208.99 358.86,209.28 359.10,209.58 359.34,209.87 359.57,210.17 359.81,210.46 360.05,210.75 360.29,211.04 360.52,211.33 360.76,211.61 361.00,211.90 361.24,212.18 361.47,212.46 361.71,212.74 361.95,213.02 362.19,213.30 362.42,213.57 362.66,213.84 362.90,214.11 363.14,214.38 363.38,214.65 363.61,214.91 363.85,215.17 364.09,215.43 364.33,215.69 364.56,215.94 364.80,216.19 365.04,216.44 365.28,216.69 365.51,216.94 365.75,217.18 365.99,217.42 366.23,217.65 366.46,217.89 366.70,218.12 366.94,218.35 367.18,218.58 367.41,218.80 367.65,219.03 367.89,219.25 368.13,219.46 368.36,219.68 368.60,219.89 368.84,220.10 369.08,220.31 369.31,220.51 369.55,220.72 369.79,220.91 370.03,221.11 370.26,221.31 370.50,221.50 370.74,221.69 370.98,221.88 371.21,222.06 371.45,222.24 371.69,222.42 371.93,222.60 372.16,222.78 372.40,222.95 372.64,223.12 372.88,223.29 373.11,223.45 373.35,223.62 373.59,223.78 373.83,223.94 374.06,224.09 374.30,224.25 374.54,224.40 374.78,224.55 375.01,224.70 375.25,224.85 375.49,224.99 375.73,225.13 375.96,225.27 376.20,225.41 376.44,225.55 376.68,225.68 376.91,225.81 377.15,225.94 377.39,226.07 377.63,226.20 377.86,226.32 378.10,226.45 378.34,226.57 378.58,226.69 378.81,226.80 379.05,226.92 379.29,227.03 379.53,227.15 379.76,227.26 380.00,227.37 380.24,227.47 380.48,227.58 380.71,227.68 380.95,227.79 381.19,227.89 381.43,227.99 381.66,228.08 381.90,228.18 382.14,228.28 382.38,228.37 382.61,228.46 382.85,228.55 383.09,228.64 383.33,228.73 383.56,228.82 383.80,228.90 384.04,228.99 384.28,229.07 384.51,229.15 384.75,229.24 384.99,229.31 385.23,229.39 385.46,229.47 385.70,229.55 385.94,229.62 386.18,229.69 386.41,229.77 386.65,229.84 386.89,229.91 387.13,229.98 387.36,230.05 387.60,230.12 387.84,230.18 388.08,230.25 388.31,230.31 388.55,230.38 388.79,230.44 389.03,230.50 389.26,230.56 389.50,230.62 389.74,230.68 389.98,230.74 390.21,230.79 390.45,230.85 390.69,230.91 390.93,230.96 391.16,231.02 391.40,231.07 391.64,231.12 391.88,231.17 392.11,231.22 392.35,231.27 392.59,231.32 392.83,231.37 393.06,231.42 393.30,231.47 393.54,231.51 393.78,231.56 394.01,231.61 394.25,231.65 394.49,231.69 394.73,231.74 394.96,231.78 395.20,231.82 395.44,231.86 395.68,231.91 395.91,231.95 396.15,231.99 396.39,232.03 396.63,232.06 396.86,232.10 397.10,232.14 397.34,232.18 397.58,232.21 397.81,232.25 398.05,232.29 398.29,232.32 398.53,232.35 398.76,232.39 399.00,232.42 399.24,232.46 399.48,232.49 399.71,232.52 399.95,232.55 400.19,232.58 400.43,232.62 400.66,232.65 400.90,232.68 401.14,232.71 401.38,232.73 401.61,232.76 401.85,232.79 402.09,232.82 402.33,232.85 402.56,232.88 402.80,232.90 403.04,232.93 403.28,232.96 403.51,232.98 403.75,233.01 403.99,233.03 404.23,233.06 404.46,233.08 404.70,233.11 404.94,233.13 405.18,233.15 405.41,233.18 405.65,233.20 405.89,233.22 406.13,233.25 406.36,233.27 406.60,233.29 406.84,233.31 407.08,233.33 407.31,233.35 407.55,233.37 407.79,233.39 408.03,233.41 408.26,233.43 408.50,233.45 408.74,233.47 408.98,233.49 409.21,233.51 409.45,233.53 409.69,233.55 409.93,233.57 410.16,233.59 410.40,233.60 410.64,233.62 410.88,233.64 411.11,233.65 411.35,233.67 411.59,233.69 411.83,233.70 412.06,233.72 412.30,233.74 412.54,233.75 412.78,233.77 413.01,233.78 413.25,233.80 413.49,233.81 413.73,233.83 413.96,233.84 414.20,233.86 414.44,233.87 414.68,233.89 414.91,233.90 415.15,233.92 415.39,233.93 415.63,233.94 415.86,233.96 416.10,233.97 416.34,233.98 416.58,234.00 416.81,234.01 417.05,234.02 417.29,234.03 417.53,234.05 417.76,234.06 418.00,234.07 418.24,234.08 418.48,234.09 418.71,234.10 418.95,234.12 419.19,234.13 419.43,234.14 419.66,234.15 419.90,234.16 420.14,234.17 420.38,234.18 420.61,234.19 420.85,234.20 421.09,234.21 421.33,234.22 421.56,234.23 421.80,234.24 422.04,234.25 422.28,234.26 422.51,234.27 422.75,234.28 422.99,234.29 423.23,234.30 423.46,234.31 423.70,234.32 423.94,234.33 424.18,234.34 424.41,234.35 424.65,234.35 424.89,234.36 425.13,234.37 425.36,234.38 425.60,234.39 425.84,234.40 426.08,234.41 426.31,234.41 426.55,234.42 426.79,234.43 427.03,234.44 427.26,234.44 427.50,234.45 427.74,234.46 427.98,234.47 428.21,234.47 428.45,234.48 428.69,234.49 428.93,234.50 429.16,234.50 429.40,234.51 429.64,234.52 429.88,234.52 430.11,234.53 430.35,234.54 430.59,234.54 430.83,234.55 431.06,234.56 431.30,234.56 431.54,234.57 431.78,234.58 432.01,234.58 432.25,234.59 432.49,234.59 432.73,234.60 432.96,234.61 433.20,234.61 433.44,234.62 433.68,234.62 433.91,234.63 434.15,234.64 434.39,234.64 434.63,234.65 434.86,234.65 435.10,234.66 435.34,234.66 435.58,234.67 435.81,234.67 436.05,234.68 436.29,234.68 436.53,234.69 436.76,234.69 437.00,234.70 437.24,234.70 437.48,234.71 437.71,234.71 437.95,234.72 438.19,234.72 438.43,234.73 438.66,234.73 438.90,234.74 439.14,234.74 439.38,234.75 439.61,234.75 439.85,234.76 440.09,234.76 440.33,234.76 440.56,234.77 440.80,234.77 441.04,234.78 441.28,234.78 441.51,234.79 441.75,234.79 441.99,234.79 442.23,234.80 442.46,234.80 442.70,234.81 442.94,234.81 443.18,234.81 443.41,234.82 443.65,234.82 443.89,234.82 444.13,234.83 444.36,234.83 444.60,234.84 444.84,234.84 445.08,234.84 445.31,234.85 445.55,234.85 445.79,234.85 446.03,234.86 446.26,234.86 446.50,234.86 446.74,234.87 446.98,234.87 447.21,234.87 447.45,234.88 447.69,234.88 447.93,234.88 448.16,234.89 448.40,234.89 448.64,234.89 448.88,234.90 449.11,234.90 449.35,234.90 449.59,234.90 449.83,234.91 450.06,234.91 450.30,234.91 450.54,234.92 450.78,234.92 451.01,234.92 451.25,234.93 451.49,234.93 451.73,234.93 451.96,234.93 452.20,234.94 452.44,234.94 452.68,234.94 452.91,234.94 453.15,234.95 453.39,234.95 453.63,234.95 453.86,234.95 454.10,234.96 454.34,234.96 454.58,234.96 454.81,234.96 455.05,234.97 455.29,234.97 455.53,234.97 455.76,234.97 456.00,234.98 456.24,234.98 456.48,234.98 456.71,234.98 456.95,234.99 457.19,234.99 457.43,234.99 457.66,234.99 457.90,234.99 458.14,235.00 458.38,235.00 458.61,235.00 458.85,235.00 459.09,235.01 459.33,235.01 459.56,235.01 459.80,235.01 460.04,235.01 460.28,235.02 460.51,235.02 460.75,235.02 460.99,235.02 461.23,235.02 461.46,235.03 461.70,235.03 461.94,235.03 462.18,235.03 462.41,235.03 462.65,235.03 462.89,235.04 463.13,235.04 463.36,235.04 463.60,235.04 463.84,235.04 464.08,235.05 464.31,235.05 464.55,235.05 464.79,235.05 465.03,235.05 465.26,235.05 465.50,235.06 465.74,235.06 465.98,235.06 466.21,235.06 466.45,235.06 466.69,235.06 466.93,235.07 467.16,235.07 467.40,235.07 467.64,235.07 467.88,235.07 468.11,235.07 468.35,235.08 468.59,235.08 468.83,235.08 469.06,235.08 469.30,235.08 469.54,235.08 469.78,235.08 470.01,235.09 470.25,235.09 470.49,235.09 470.73,235.09 470.96,235.09 471.20,235.09 471.44,235.09 471.68,235.10 471.91,235.10 472.15,235.10 472.39,235.10 472.63,235.10 472.86,235.10 473.10,235.10 473.34,235.10 473.58,235.11 473.81,235.11 474.05,235.11 474.29,235.11 474.53,235.11 474.76,235.11 475.00,235.11 475.24,235.11 475.48,235.12 475.71,235.12 475.95,235.12 476.19,235.12 476.43,235.12 476.66,235.12 476.90,235.12 477.14,235.12 477.38,235.13 477.61,235.13 477.85,235.13 478.09,235.13 478.33,235.13 478.56,235.13 478.80,235.13 479.04,235.13 479.28,235.13 479.51,235.13 479.75,235.14 479.99,235.14 480.23,235.14 480.46,235.14 480.70,235.14 480.94,235.14 481.18,235.14 481.41,235.14 481.65,235.14 481.89,235.15 482.13,235.15 482.36,235.15 482.60,235.15 482.84,235.15 483.08,235.15 483.31,235.15 483.55,235.15 483.79,235.15 484.03,235.15 484.26,235.15 484.50,235.16 484.74,235.16 484.98,235.16 485.21,235.16 485.45,235.16 485.69,235.16 485.93,235.16 486.16,235.16 486.40,235.16 486.64,235.16 486.88,235.16 487.11,235.17 487.35,235.17 487.59,235.17 487.83,235.17 488.06,235.17 488.30,235.17 488.54,235.17 488.78,235.17 489.01,235.17 489.25,235.17 489.49,235.17 489.73,235.17 489.96,235.17 490.20,235.18 490.44,235.18 490.68,235.18 490.91,235.18 491.15,235.18 491.39,235.18 491.63,235.18 491.86,235.18 492.10,235.18 492.34,235.18" fill="none" stroke="#000" stroke-width="1.1"/>
<polyline points="351.02,190.00 351.26,190.37 351.50,190.74 351.74,191.12 351.98,191.50 352.21,191.90 352.45,192.31 352.69,192.72 352.93,193.14 353.16,193.57 353.40,194.00 353.64,194.44 353.88,194.89 354.11,195.34 354.35,195.81 354.59,196.27 354.82,196.74 355.06,197.22 355.30,197.70 355.54,198.19 355.77,198.68 356.01,199.18 356.25,199.67 356.49,200.18 356.72,200.68 356.96,201.19 357.20,201.69 357.44,202.20 357.67,202.71 357.91,203.22 358.15,203.73 358.39,204.24 358.62,204.76 358.86,205.26 359.10,205.77 359.34,206.28 359.57,206.78 359.81,207.29 360.05,207.79 360.29,208.28 360.52,208.78 360.76,209.27 361.00,209.76 361.24,210.24 361.47,210.72 361.71,211.19 361.95,211.66 362.19,212.13 362.42,212.59 362.66,213.04 362.90,213.49 363.14,213.93 363.38,214.37 363.61,214.80 363.85,215.23 364.09,215.65 364.33,216.06 364.56,216.47 364.80,216.87 365.04,217.26 365.28,217.65 365.51,218.03 365.75,218.41 365.99,218.78 366.23,219.14 366.46,219.49 366.70,219.84 366.94,220.19 367.18,220.52 367.41,220.85 367.65,221.17 367.89,221.49 368.13,221.80 368.36,222.11 368.60,222.40 368.84,222.69 369.08,222.98 369.31,223.26 369.55,223.53 369.79,223.80 370.03,224.06 370.26,224.32 370.50,224.57 370.74,224.82 370.98,225.06 371.21,225.29 371.45,225.52 371.69,225.74 371.93,225.96 372.16,226.18 372.40,226.38 372.64,226.59 372.88,226.79 373.11,226.98 373.35,227.17 373.59,227.36 373.83,227.54 374.06,227.72 374.30,227.89 374.54,228.06 374.78,228.22 375.01,228.38 375.25,228.54 375.49,228.69 375.73,228.84 375.96,228.99 376.20,229.13 376.44,229.27 376.68,229.41 376.91,229.54 377.15,229.67 377.39,229.79 377.63,229.92 377.86,230.04 378.10,230.15 378.34,230.27 378.58,230.38 378.81,230.49 379.05,230.60 379.29,230.70 379.53,230.80 379.76,230.90 380.00,231.00 380.24,231.09 380.48,231.18 380.71,231.27 380.95,231.36 381.19,231.44 381.43,231.53 381.66,231.61 381.90,231.69 382.14,231.77 382.38,231.84 382.61,231.92 382.85,231.99 383.09,232.06 383.33,232.13 383.56,232.19 383.80,232.26 384.04,232.32 384.28,232.39 384.51,232.45 384.75,232.51 384.99,232.57 385.23,232.62 385.46,232.68 385.70,232.73 385.94,232.79 386.18,232.84 386.41,232.89 386.65,232.94 386.89,232.99 387.13,233.03 387.36,233.08 387.60,233.12 387.84,233.17 388.08,233.21 388.31,233.25 388.55,233.29 388.79,233.33 389.03,233.37 389.26,233.41 389.50,233.45 389.74,233.49 389.98,233.52 390.21,233.56 390.45,233.59 390.69,233.62 390.93,233.66 391.16,233.69 391.40,233.72 391.64,233.75 391.88,233.78 392.11,233.81 392.35,233.84 392.59,233.87 392.83,233.89 393.06,233.92 393.30,233.95 393.54,233.97 393.78,234.00 394.01,234.02 394.25,234.05 394.49,234.07 394.73,234.09 394.96,234.11 395.20,234.14 395.44,234.16 395.68,234.18 395.91,234.20 396.15,234.22 396.39,234.24 396.63,234.26 396.86,234.28 397.10,234.30 397.34,234.31 397.58,234.33 397.81,234.35 398.05,234.37 398.29,234.38 398.53,234.40 398.76,234.42 399.00,234.43 399.24,234.45 399.48,234.46 399.71,234.48 399.95,234.49 400.19,234.51 400.43,234.52 400.66,234.53 400.90,234.55 401.14,234.56 401.38,234.57 401.61,234.59 401.85,234.60 402.09,234.61 402.33,234.62 402.56,234.63 402.80,234.65 403.04,234.66 403.28,234.67 403.51,234.68 403.75,234.69 403.99,234.70 404.23,234.71 404.46,234.72 404.70,234.73 404.94,234.74 405.18,234.75 405.41,234.76 405.65,234.77 405.89,234.77 406.13,234.78 406.36,234.79 406.60,234.80 406.84,234.81 407.08,234.82 407.31,234.82 407.55,234.83 407.79,234.84 408.03,234.85 408.26,234.85 408.50,234.86 408.74,234.87 408.98,234.88 409.21,234.88 409.45,234.89 409.69,234.90 409.93,234.90 410.16,234.91 410.40,234.92 410.64,234.92 410.88,234.93 411.11,234.93 411.35,234.94 411.59,234.94 411.83,234.95 412.06,234.96 412.30,234.96 412.54,234.97 412.78,234.97 413.01,234.98 413.25,234.98 413.49,234.99 413.73,234.99 413.96,235.00 414.20,235.00 414.44,235.01 414.68,235.01 414.91,235.01 415.15,235.02 415.39,235.02 415.63,235.03 415.86,235.03 416.10,235.04 416.34,235.04 416.58,235.04 416.81,235.05 417.05,235.05 417.29,235.05 417.53,235.06 417.76,235.06 418.00,235.07 418.24,235.07 418.48,235.07 418.71,235.08 418.95,235.08 419.19,235.08 419.43,235.09 419.66,235.09 419.90,235.09 420.14,235.10 420.38,235.10 420.61,235.10 420.85,235.10 421.09,235.11 421.33,235.11 421.56,235.11 421.80,235.12 422.04,235.12 422.28,235.12 422.51,235.12 422.75,235.13 422.99,235.13 423.23,235.13 423.46,235.13 423.70,235.14 423.94,235.14 424.18,235.14 424.41,235.14 424.65,235.14 424.89,235.15 425.13,235.15 425.36,235.15 425.60,235.15 425.84,235.16 426.08,235.16 426.31,235.16 426.55,235.16 426.79,235.16 427.03,235.17 427.26,235.17 427.50,235.17 427.74,235.17 427.98,235.17 428.21,235.17 428.45,235.18 428.69,235.18 428.93,235.18 429.16,235.18 429.40,235.18 429.64,235.19 429.88,235.19 430.11,235.19 430.35,235.19 430.59,235.19 430.83,235.19 431.06,235.19 431.30,235.20 431.54,235.20 431.78,235.20 432.01,235.20 432.25,235.20 432.49,235.20 432.73,235.20 432.96,235.21 433.20,235.21 433.44,235.21 433.68,235.21 433.91,235.21 434.15,235.21 434.39,235.21 434.63,235.21 434.86,235.22 435.10,235.22 435.34,235.22 435.58,235.22 435.81,235.22 436.05,235.22 436.29,235.22 436.53,235.22 436.76,235.22 437.00,235.23 437.24,235.23 437.48,235.23 437.71,235.23 437.95,235.23 438.19,235.23 438.43,235.23 438.66,235.23 438.90,235.23 439.14,235.23 439.38,235.24 439.61,235.24 439.85,235.24 440.09,235.24 440.33,235.24 440.56,235.24 440.80,235.24 441.04,235.24 441.28,235.24 441.51,235.24 441.75,235.24 441.99,235.24 442.23,235.25 442.46,235.25 442.70,235.25 442.94,235.25 443.18,235.25 443.41,235.25 443.65,235.25 443.89,235.25 444.13,235.25 444.36,235.25 444.60,235.25 444.84,235.25 445.08,235.25 445.31,235.25 445.55,235.25 445.79,235.26 446.03,235.26 446.26,235.26 446.50,235.26 446.74,235.26 446.98,235.26 447.21,235.26 447.45,235.26 447.69,235.26 447.93,235.26 448.16,235.26 448.40,235.26 448.64,235.26 448.88,235.26 449.11,235.26 449.35,235.26 449.59,235.26 449.83,235.27 450.06,235.27 450.30,235.27 450.54,235.27 450.78,235.27 451.01,235.27 451.25,235.27 451.49,235.27 451.73,235.27 451.96,235.27 452.20,235.27 452.44,235.27 452.68,235.27 452.91,235.27 453.15,235.27 453.39,235.27 453.63,235.27 453.86,235.27 454.10,235.27 454.34,235.27 454.58,235.27 454.81,235.27 455.05,235.27 455.29,235.28 455.53,235.28 455.76,235.28 456.00,235.28 456.24,235.28 456.48,235.28 456.71,235.28 456.95,235.28 457.19,235.28 457.43,235.28 457.66,235.28 457.90,235.28 458.14,235.28 458.38,235.28 458.61,235.28 458.85,235.28 459.09,235.28 459.33,235.28 459.56,235.28 459.80,235.28 460.04,235.28 460.28,235.28 460.51,235.28 460.75,235.28 460.99,235.28 461.23,235.28 461.46,235.28 461.70,235.28 461.94,235.28 462.18,235.28 462.41,235.28 462.65,235.29 462.89,235.29 463.13,235.29 463.36,235.29 463.60,235.29 463.84,235.29 464.08,235.29 464.31,235.29 464.55,235.29 464.79,235.29 465.03,235.29 465.26,235.29 465.50,235.29 465.74,235.29 465.98,235.29 466.21,235.29 466.45,235.29 466.69,235.29 466.93,235.29 467.16,235.29 467.40,235.29 467.64,235.29 467.88,235.29 468.11,235.29 468.35,235.29 468.59,235.29 468.83,235.29 469.06,235.29 469.30,235.29 469.54,235.29 469.78,235.29 470.01,235.29 470.25,235.29 470.49,235.29 470.73,235.29 470.96,235.29 471.20,235.29 471.44,235.29 471.68,235.29 471.91,235.29 472.15,235.29 472.39,235.29 472.63,235.29 472.86,235.29 473.10,235.29 473.34,235.29 473.58,235.29 473.81,235.29 474.05,235.29 474.29,235.30 474.53,235.30 474.76,235.30 475.00,235.30 475.24,235.30 475.48,235.30 475.71,235.30 475.95,235.30 476.19,235.30 476.43,235.30 476.66,235.30 476.90,235.30 477.14,235.30 477.38,235.30 477.61,235.30 477.85,235.30 478.09,235.30 478.33,235.30 478.56,235.30 478.80,235.30 479.04,235.30 479.28,235.30 479.51,235.30 479.75,235.30 479.99,235.30 480.23,235.30 480.46,235.30 480.70,235.30 480.94,235.30 481.18,235.30 481.41,235.30 481.65,235.30 481.89,235.30 482.13,235.30 482.36,235.30 482.60,235.30 482.84,235.30 483.08,235.30 483.31,235.30 483.55,235.30 483.79,235.30 484.03,235.30 484.26,235.30 484.50,235.30 484.74,235.30 484.98,235.30 485.21,235.30 485.45,235.30 485.69,235.30 485.93,235.30 486.16,235.30 486.40,235.30 486.64,235.30 486.88,235.30 487.11,235.30 487.35,235.30 487.59,235.30 487.83,235.30 488.06,235.30 488.30,235.30 488.54,235.30 488.78,235.30 489.01,235.30 489.25,235.30 489.49,235.30 489.73,235.30 489.96,235.30 490.20,235.30 490.44,235.30 490.68,235.30 490.91,235.30 491.15,235.30 491.39,235.30 491.63,235.30 491.86,235.30 492.10,235.30 492.34,235.30" fill="none" stroke="#000" stroke-width="1.1"/>
<line x1="351.5" y1="40.9" x2="351.5" y2="33.2" stroke="#000" stroke-width="1.1" />
<line x1="347.7" y1="33.2" x2="355.3" y2="33.2" stroke="#000" stroke-width="1.1" />
<line x1="356.3" y1="68.7" x2="356.3" y2="60" stroke="#000" stroke-width="1.1" />
<line x1="352.5" y1="60" x2="360.1" y2="60" stroke="#000" stroke-width="1.1" />
<line x1="361" y1="127.4" x2="361" y2="112.2" stroke="#000" stroke-width="1.1" />
<line x1="357.2" y1="112.2" x2="364.8" y2="112.2" stroke="#000" stroke-width="1.1" />
<line x1="365.8" y1="159.4" x2="365.8" y2="156" stroke="#000" stroke-width="1.1" />
<line x1="362.0" y1="156" x2="369.6" y2="156" stroke="#000" stroke-width="1.1" />
<line x1="375.3" y1="205.3" x2="375.3" y2="198" stroke="#000" stroke-width="1.1" />
<line x1="371.5" y1="198" x2="379.1" y2="198" stroke="#000" stroke-width="1.1" />
<line x1="484.5" y1="234.5" x2="484.5" y2="231" stroke="#000" stroke-width="1.1" />
<line x1="480.7" y1="231" x2="488.3" y2="231" stroke="#000" stroke-width="1.1" />
<circle cx="351.5" cy="40.9" r="3.7" fill="#000"/>
<circle cx="356.3" cy="68.7" r="3.7" fill="#000"/>
<circle cx="361" cy="127.4" r="3.7" fill="#000"/>
<circle cx="365.8" cy="159.4" r="3.7" fill="#000"/>
<circle cx="375.3" cy="205.3" r="3.7" fill="#000"/>
<circle cx="484.5" cy="234.5" r="3.7" fill="#000"/>
<line x1="351.5" y1="56.7" x2="351.5" y2="56.7" stroke="#000" stroke-width="1.1" />
<line x1="347.7" y1="56.7" x2="355.3" y2="56.7" stroke="#000" stroke-width="1.1" />
<line x1="356.3" y1="87.4" x2="356.3" y2="63.7" stroke="#000" stroke-width="1.1" />
<line x1="352.5" y1="63.7" x2="360.1" y2="63.7" stroke="#000" stroke-width="1.1" />
<line x1="361" y1="127.6" x2="361" y2="118.4" stroke="#000" stroke-width="1.1" />
<line x1="357.2" y1="118.4" x2="364.8" y2="118.4" stroke="#000" stroke-width="1.1" />
<line x1="365.8" y1="139.5" x2="365.8" y2="123" stroke="#000" stroke-width="1.1" />
<line x1="362.0" y1="123" x2="369.6" y2="123" stroke="#000" stroke-width="1.1" />
<line x1="375.3" y1="194.4" x2="375.3" y2="189.8" stroke="#000" stroke-width="1.1" />
<line x1="371.5" y1="189.8" x2="379.1" y2="189.8" stroke="#000" stroke-width="1.1" />
<line x1="484.5" y1="219.9" x2="484.5" y2="215.5" stroke="#000" stroke-width="1.1" />
<line x1="480.7" y1="215.5" x2="488.3" y2="215.5" stroke="#000" stroke-width="1.1" />
<circle cx="351.5" cy="56.7" r="3.2" fill="#fff" stroke="#000" stroke-width="1"/>
<circle cx="356.3" cy="87.4" r="3.2" fill="#fff" stroke="#000" stroke-width="1"/>
<circle cx="361" cy="127.6" r="3.2" fill="#fff" stroke="#000" stroke-width="1"/>
<circle cx="365.8" cy="139.5" r="3.2" fill="#fff" stroke="#000" stroke-width="1"/>
<circle cx="375.3" cy="194.4" r="3.2" fill="#fff" stroke="#000" stroke-width="1"/>
<circle cx="484.5" cy="219.9" r="3.2" fill="#fff" stroke="#000" stroke-width="1"/>
<line x1="351.5" y1="181" x2="351.5" y2="178" stroke="#000" stroke-width="1.1" />
<line x1="347.7" y1="178" x2="355.3" y2="178" stroke="#000" stroke-width="1.1" />
<line x1="356.3" y1="194" x2="356.3" y2="190" stroke="#000" stroke-width="1.1" />
<line x1="352.5" y1="190" x2="360.1" y2="190" stroke="#000" stroke-width="1.1" />
<line x1="361" y1="204" x2="361" y2="201" stroke="#000" stroke-width="1.1" />
<line x1="357.2" y1="201" x2="364.8" y2="201" stroke="#000" stroke-width="1.1" />
<line x1="365.8" y1="213" x2="365.8" y2="210" stroke="#000" stroke-width="1.1" />
<line x1="362.0" y1="210" x2="369.6" y2="210" stroke="#000" stroke-width="1.1" />
<line x1="375.3" y1="219" x2="375.3" y2="216" stroke="#000" stroke-width="1.1" />
<line x1="371.5" y1="216" x2="379.1" y2="216" stroke="#000" stroke-width="1.1" />
<line x1="484.5" y1="222.5" x2="484.5" y2="220" stroke="#000" stroke-width="1.1" />
<line x1="480.7" y1="220" x2="488.3" y2="220" stroke="#000" stroke-width="1.1" />
<polygon points="347.5,177.8 355.5,177.8 351.5,184.8" fill="#000"/>
<polygon points="352.3,190.8 360.3,190.8 356.3,197.8" fill="#000"/>
<polygon points="357,200.8 365,200.8 361,207.8" fill="#000"/>
<polygon points="361.8,209.8 369.8,209.8 365.8,216.8" fill="#000"/>
<polygon points="371.3,215.8 379.3,215.8 375.3,222.8" fill="#000"/>
<polygon points="480.5,219.3 488.5,219.3 484.5,226.3" fill="#000"/>
<line x1="351.5" y1="189" x2="351.5" y2="187" stroke="#000" stroke-width="1.1" />
<line x1="347.7" y1="187" x2="355.3" y2="187" stroke="#000" stroke-width="1.1" />
<line x1="356.3" y1="193" x2="356.3" y2="190" stroke="#000" stroke-width="1.1" />
<line x1="352.5" y1="190" x2="360.1" y2="190" stroke="#000" stroke-width="1.1" />
<line x1="361" y1="206" x2="361" y2="203" stroke="#000" stroke-width="1.1" />
<line x1="357.2" y1="203" x2="364.8" y2="203" stroke="#000" stroke-width="1.1" />
<line x1="365.8" y1="214" x2="365.8" y2="211" stroke="#000" stroke-width="1.1" />
<line x1="362.0" y1="211" x2="369.6" y2="211" stroke="#000" stroke-width="1.1" />
<line x1="375.3" y1="219" x2="375.3" y2="216" stroke="#000" stroke-width="1.1" />
<line x1="371.5" y1="216" x2="379.1" y2="216" stroke="#000" stroke-width="1.1" />
<line x1="484.5" y1="226.5" x2="484.5" y2="224" stroke="#000" stroke-width="1.1" />
<line x1="480.7" y1="224" x2="488.3" y2="224" stroke="#000" stroke-width="1.1" />
<polygon points="347.9,192 355.1,192 351.5,185.6" fill="#fff" stroke="#000" stroke-width="1"/>
<polygon points="352.7,196 359.90000000000003,196 356.3,189.6" fill="#fff" stroke="#000" stroke-width="1"/>
<polygon points="357.4,209 364.6,209 361,202.6" fill="#fff" stroke="#000" stroke-width="1"/>
<polygon points="362.2,217 369.40000000000003,217 365.8,210.6" fill="#fff" stroke="#000" stroke-width="1"/>
<polygon points="371.7,222 378.90000000000003,222 375.3,215.6" fill="#fff" stroke="#000" stroke-width="1"/>
<polygon points="480.9,229.5 488.1,229.5 484.5,223.1" fill="#fff" stroke="#000" stroke-width="1"/>
<line x1="351.5" y1="170.3" x2="351.5" y2="161.4" stroke="#000" stroke-width="1.1" />
<line x1="347.7" y1="161.4" x2="355.3" y2="161.4" stroke="#000" stroke-width="1.1" />
<line x1="356.3" y1="187.3" x2="356.3" y2="173.3" stroke="#000" stroke-width="1.1" />
<line x1="352.5" y1="173.3" x2="360.1" y2="173.3" stroke="#000" stroke-width="1.1" />
<line x1="361" y1="200.1" x2="361" y2="188.4" stroke="#000" stroke-width="1.1" />
<line x1="357.2" y1="188.4" x2="364.8" y2="188.4" stroke="#000" stroke-width="1.1" />
<line x1="365.8" y1="210.8" x2="365.8" y2="203" stroke="#000" stroke-width="1.1" />
<line x1="362.0" y1="203" x2="369.6" y2="203" stroke="#000" stroke-width="1.1" />
<line x1="375.3" y1="212.2" x2="375.3" y2="208" stroke="#000" stroke-width="1.1" />
<line x1="371.5" y1="208" x2="379.1" y2="208" stroke="#000" stroke-width="1.1" />
<line x1="484.5" y1="226.5" x2="484.5" y2="223" stroke="#000" stroke-width="1.1" />
<line x1="480.7" y1="223" x2="488.3" y2="223" stroke="#000" stroke-width="1.1" />
<rect x="348.1" y="166.9" width="6.8" height="6.8" fill="#000"/>
<rect x="352.90000000000003" y="183.9" width="6.8" height="6.8" fill="#000"/>
<rect x="357.6" y="196.7" width="6.8" height="6.8" fill="#000"/>
<rect x="362.40000000000003" y="207.4" width="6.8" height="6.8" fill="#000"/>
<rect x="371.90000000000003" y="208.79999999999998" width="6.8" height="6.8" fill="#000"/>
<rect x="481.1" y="223.1" width="6.8" height="6.8" fill="#000"/>
<line x1="351.5" y1="198" x2="351.5" y2="196" stroke="#000" stroke-width="1.1" />
<line x1="347.7" y1="196" x2="355.3" y2="196" stroke="#000" stroke-width="1.1" />
<line x1="356.3" y1="207.6" x2="356.3" y2="205" stroke="#000" stroke-width="1.1" />
<line x1="352.5" y1="205" x2="360.1" y2="205" stroke="#000" stroke-width="1.1" />
<line x1="361" y1="213" x2="361" y2="211" stroke="#000" stroke-width="1.1" />
<line x1="357.2" y1="211" x2="364.8" y2="211" stroke="#000" stroke-width="1.1" />
<line x1="365.8" y1="217" x2="365.8" y2="215" stroke="#000" stroke-width="1.1" />
<line x1="362.0" y1="215" x2="369.6" y2="215" stroke="#000" stroke-width="1.1" />
<line x1="375.3" y1="222" x2="375.3" y2="219" stroke="#000" stroke-width="1.1" />
<line x1="371.5" y1="219" x2="379.1" y2="219" stroke="#000" stroke-width="1.1" />
<line x1="484.5" y1="230" x2="484.5" y2="227" stroke="#000" stroke-width="1.1" />
<line x1="480.7" y1="227" x2="488.3" y2="227" stroke="#000" stroke-width="1.1" />
<rect x="348.5" y="195" width="6" height="6" fill="#fff" stroke="#000" stroke-width="1"/>
<rect x="353.3" y="204.6" width="6" height="6" fill="#fff" stroke="#000" stroke-width="1"/>
<rect x="358" y="210" width="6" height="6" fill="#fff" stroke="#000" stroke-width="1"/>
<rect x="362.8" y="214" width="6" height="6" fill="#fff" stroke="#000" stroke-width="1"/>
<rect x="372.3" y="219" width="6" height="6" fill="#fff" stroke="#000" stroke-width="1"/>
<rect x="481.5" y="227" width="6" height="6" fill="#fff" stroke="#000" stroke-width="1"/>
<line x1="351.5" y1="189" x2="351.5" y2="187" stroke="#000" stroke-width="1.1" />
<line x1="347.7" y1="187" x2="355.3" y2="187" stroke="#000" stroke-width="1.1" />
<line x1="356.3" y1="201.2" x2="356.3" y2="199" stroke="#000" stroke-width="1.1" />
<line x1="352.5" y1="199" x2="360.1" y2="199" stroke="#000" stroke-width="1.1" />
<line x1="361" y1="207.6" x2="361" y2="205" stroke="#000" stroke-width="1.1" />
<line x1="357.2" y1="205" x2="364.8" y2="205" stroke="#000" stroke-width="1.1" />
<line x1="365.8" y1="216.2" x2="365.8" y2="213" stroke="#000" stroke-width="1.1" />
<line x1="362.0" y1="213" x2="369.6" y2="213" stroke="#000" stroke-width="1.1" />
<line x1="375.3" y1="222" x2="375.3" y2="219" stroke="#000" stroke-width="1.1" />
<line x1="371.5" y1="219" x2="379.1" y2="219" stroke="#000" stroke-width="1.1" />
<line x1="484.5" y1="230" x2="484.5" y2="227" stroke="#000" stroke-width="1.1" />
<line x1="480.7" y1="227" x2="488.3" y2="227" stroke="#000" stroke-width="1.1" />
<polygon points="351.5,184.7 355.8,189 351.5,193.3 347.2,189" fill="#000"/>
<polygon points="356.3,196.89999999999998 360.6,201.2 356.3,205.5 352.0,201.2" fill="#000"/>
<polygon points="361,203.29999999999998 365.3,207.6 361,211.9 356.7,207.6" fill="#000"/>
<polygon points="365.8,211.89999999999998 370.1,216.2 365.8,220.5 361.5,216.2" fill="#000"/>
<polygon points="375.3,217.7 379.6,222 375.3,226.3 371.0,222" fill="#000"/>
<polygon points="484.5,225.7 488.8,230 484.5,234.3 480.2,230" fill="#000"/>
<circle cx="445.8" cy="23.0" r="3.7" fill="#000"/>
<text x="460.8" y="25.9" font-family="Liberation Sans, sans-serif" font-size="8.7" font-weight="normal" text-anchor="start" fill="#000" >control</text>
<circle cx="445.8" cy="35.0" r="3.2" fill="#fff" stroke="#000" stroke-width="1"/>
<text x="460.8" y="37.9" font-family="Liberation Sans, sans-serif" font-size="8.7" fill="#000"><tspan font-family="Liberation Serif, serif" font-size="9.5">α</tspan>DBL1</text>
<polygon points="441.8,44.199999999999996 449.8,44.199999999999996 445.8,51.199999999999996" fill="#000"/>
<text x="460.8" y="50.3" font-family="Liberation Sans, sans-serif" font-size="8.7" fill="#000"><tspan font-family="Liberation Serif, serif" font-size="9.5">α</tspan>DBL2</text>
<polygon points="442.2,62.7 449.40000000000003,62.7 445.8,56.300000000000004" fill="#fff" stroke="#000" stroke-width="1"/>
<text x="460.8" y="62.6" font-family="Liberation Sans, sans-serif" font-size="8.7" fill="#000"><tspan font-family="Liberation Serif, serif" font-size="9.5">α</tspan>DBL3</text>
<rect x="442.40000000000003" y="68.69999999999999" width="6.8" height="6.8" fill="#000"/>
<text x="460.8" y="75.0" font-family="Liberation Sans, sans-serif" font-size="8.7" fill="#000"><tspan font-family="Liberation Serif, serif" font-size="9.5">α</tspan>DBL4</text>
<rect x="442.8" y="81.5" width="6" height="6" fill="#fff" stroke="#000" stroke-width="1"/>
<text x="460.8" y="87.4" font-family="Liberation Sans, sans-serif" font-size="8.7" fill="#000"><tspan font-family="Liberation Serif, serif" font-size="9.5">α</tspan>DBL5</text>
<polygon points="445.8,92.60000000000001 450.1,96.9 445.8,101.2 441.5,96.9" fill="#000"/>
<text x="460.8" y="99.80000000000001" font-family="Liberation Sans, sans-serif" font-size="8.7" fill="#000"><tspan font-family="Liberation Serif, serif" font-size="9.5">α</tspan>DBL6</text></svg></body></html>
